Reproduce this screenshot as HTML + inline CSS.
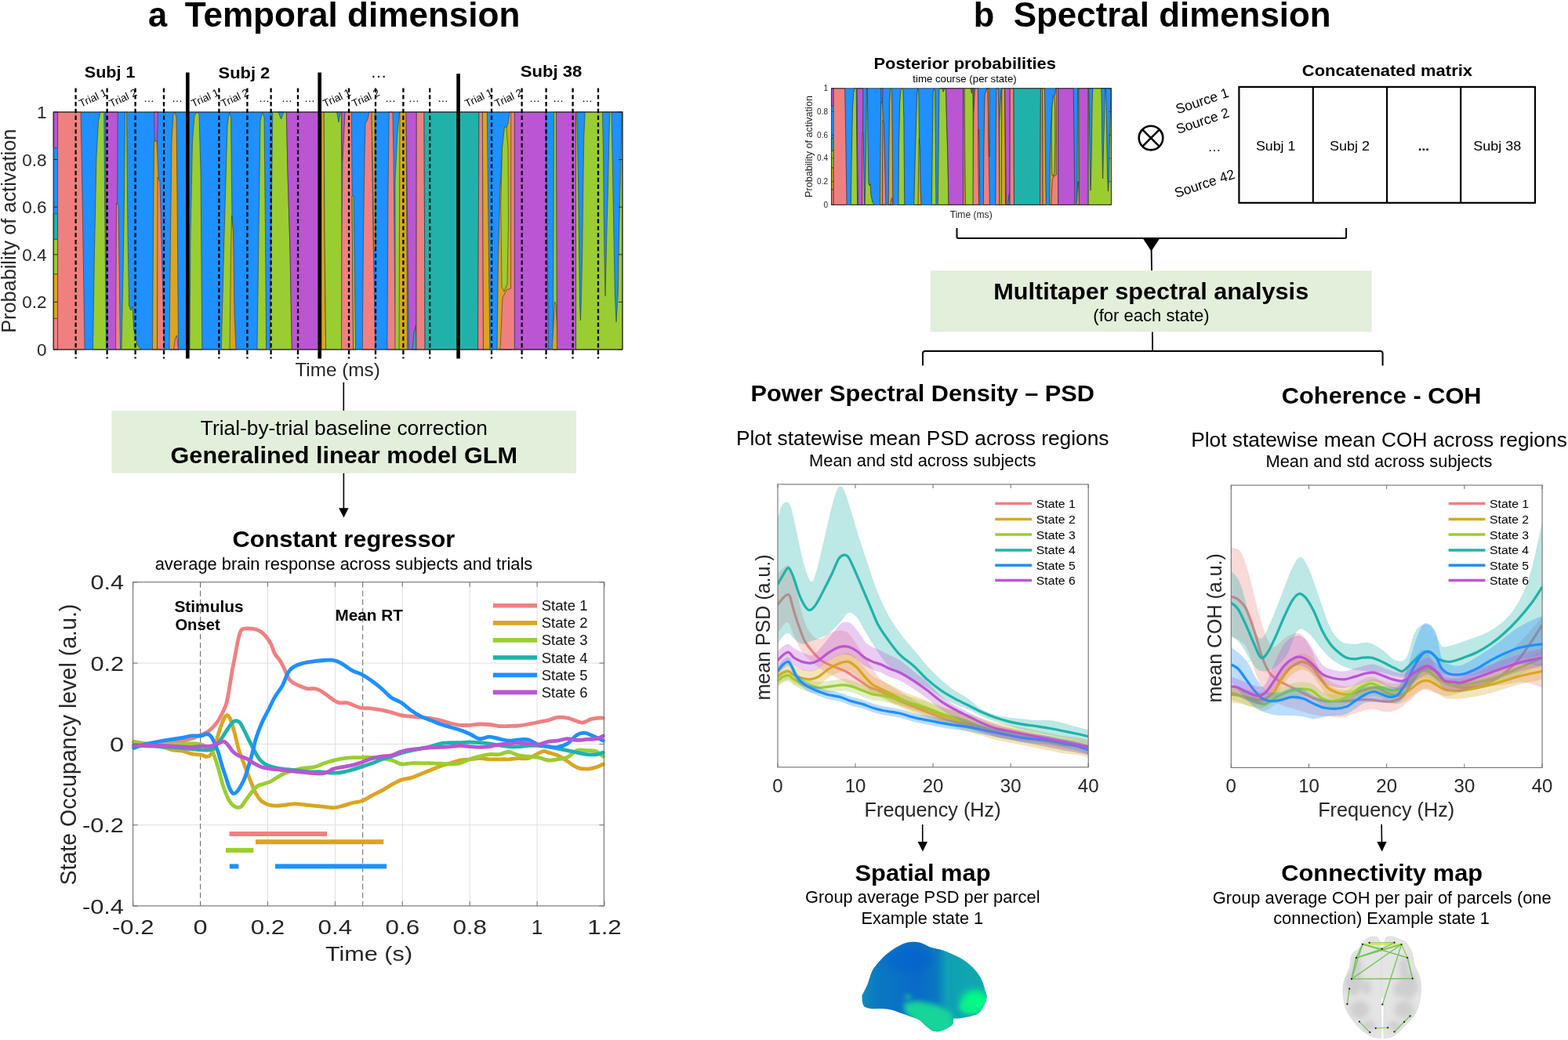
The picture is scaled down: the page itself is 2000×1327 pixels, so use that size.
<!DOCTYPE html>
<html><head><meta charset="utf-8"><title>Temporal and spectral dimension</title>
<style>html,body{margin:0;padding:0;background:#fff;} svg{display:block;} text{font-family:'Liberation Sans', Arial, Helvetica, sans-serif;}</style>
</head><body>
<svg width="2000" height="1327" viewBox="0 0 2000 1327">
<rect width="2000" height="1327" fill="#fff"/>
<text x="201.0" y="34.0" font-size="43.5" font-weight="bold" text-anchor="middle">a</text>
<text x="449.6" y="34.0" font-size="43.5" font-weight="bold" text-anchor="middle" textLength="427.6" lengthAdjust="spacingAndGlyphs">Temporal dimension</text>
<text x="1255.0" y="34.0" font-size="43.5" font-weight="bold" text-anchor="middle">b</text>
<text x="1495.2" y="34.0" font-size="43.5" font-weight="bold" text-anchor="middle" textLength="404.9" lengthAdjust="spacingAndGlyphs">Spectral dimension</text>
<g>
<rect x="68.2" y="143.0" width="725.8" height="303.0" fill="#1E90FF"/>
<polygon points="68.2,143.0 73.6,143.0 73.6,188.6 68.2,188.6" fill="#BA55D3" stroke="#333" stroke-width="0.6" stroke-linejoin="round"/>
<polygon points="68.2,272.7 73.6,272.7 73.6,305.4 68.2,305.4" fill="#20B2AA" stroke="#333" stroke-width="0.6" stroke-linejoin="round"/>
<polygon points="68.2,305.4 73.6,305.4 73.6,349.8 68.2,349.8" fill="#9ACD32" stroke="#333" stroke-width="0.6" stroke-linejoin="round"/>
<polygon points="68.2,349.8 73.6,349.8 73.6,406.4 68.2,406.4" fill="#DAA520" stroke="#333" stroke-width="0.6" stroke-linejoin="round"/>
<polygon points="68.2,406.4 73.6,406.4 73.6,446.0 68.2,446.0" fill="#F08080" stroke="#333" stroke-width="0.6" stroke-linejoin="round"/>
<polygon points="73.6,143.0 103.0,143.0 105.0,250.0 107.0,380.0 108.0,446.0 73.6,446.0" fill="#F08080" stroke="#333" stroke-width="0.6" stroke-linejoin="round"/>
<polygon points="118.5,446.0 120.5,320.0 123.0,200.0 125.5,155.0 128.0,143.0 132.7,143.0 133.5,250.0 135.5,446.0" fill="#9ACD32" stroke="#333" stroke-width="0.6" stroke-linejoin="round"/>
<polygon points="134.6,143.0 150.2,143.0 149.5,300.0 148.5,446.0 137.4,446.0 135.5,300.0" fill="#BA55D3" stroke="#333" stroke-width="0.6" stroke-linejoin="round"/>
<polygon points="148.5,259.0 151.0,262.0 153.5,446.0 147.5,446.0" fill="#F08080" stroke="#333" stroke-width="0.6" stroke-linejoin="round"/>
<polygon points="159.5,143.0 161.5,143.0 163.0,300.0 164.5,390.0 167.0,396.0 169.0,391.0 170.5,420.0 175.0,440.0 180.0,446.0 155.0,446.0 157.0,350.0 158.5,250.0" fill="#9ACD32" stroke="#333" stroke-width="0.6" stroke-linejoin="round"/>
<polygon points="196.5,143.0 201.5,143.0 200.0,190.0 197.5,190.0" fill="#BA55D3" stroke="#333" stroke-width="0.6" stroke-linejoin="round"/>
<polygon points="196.5,180.0 200.0,180.0 202.0,226.0 200.5,446.0 194.5,446.0 195.5,300.0" fill="#DAA520" stroke="#333" stroke-width="0.6" stroke-linejoin="round"/>
<polygon points="201.0,226.0 204.0,232.0 209.5,446.0 200.5,446.0" fill="#F08080" stroke="#333" stroke-width="0.6" stroke-linejoin="round"/>
<polygon points="216.0,446.0 217.5,300.0 219.0,180.0 221.0,146.0 223.0,143.0 225.0,150.0 226.0,250.0 227.5,446.0" fill="#DAA520" stroke="#333" stroke-width="0.6" stroke-linejoin="round"/>
<polygon points="221.5,446.0 223.5,432.0 225.5,428.0 227.5,446.0" fill="#F08080" stroke="#333" stroke-width="0.6" stroke-linejoin="round"/>
<polygon points="242.0,446.0 243.0,300.0 245.5,180.0 248.0,148.0 251.0,143.0 254.0,146.0 256.0,220.0 257.8,446.0" fill="#9ACD32" stroke="#333" stroke-width="0.6" stroke-linejoin="round"/>
<polygon points="282.3,446.0 286.0,300.0 290.0,160.0 292.5,143.0 294.5,150.0 296.0,280.0 296.0,446.0" fill="#9ACD32" stroke="#333" stroke-width="0.6" stroke-linejoin="round"/>
<polygon points="295.5,275.0 297.5,295.0 299.0,400.0 301.0,446.0 293.0,446.0 294.5,320.0" fill="#DAA520" stroke="#333" stroke-width="0.6" stroke-linejoin="round"/>
<polygon points="328.0,446.0 330.0,300.0 332.0,155.0 334.5,143.0 337.0,150.0 338.5,300.0 339.6,446.0" fill="#9ACD32" stroke="#333" stroke-width="0.6" stroke-linejoin="round"/>
<polygon points="347.8,143.0 365.3,143.0 367.0,220.0 370.0,320.0 372.3,446.0 344.3,446.0 345.5,350.0 346.5,250.0" fill="#9ACD32" stroke="#333" stroke-width="0.6" stroke-linejoin="round"/>
<polygon points="355.0,143.0 362.0,143.0 358.5,152.0" fill="#1E90FF" stroke="#333" stroke-width="0.6" stroke-linejoin="round"/>
<polygon points="365.3,143.0 410.0,143.0 410.0,446.0 372.3,446.0 370.0,320.0 367.0,220.0" fill="#BA55D3" stroke="#333" stroke-width="0.6" stroke-linejoin="round"/>
<polygon points="410.0,143.0 413.2,143.0 414.0,300.0 415.6,446.0 410.0,446.0" fill="#DAA520" stroke="#333" stroke-width="0.6" stroke-linejoin="round"/>
<polygon points="413.2,143.0 435.4,143.0 436.0,300.0 436.0,446.0 415.6,446.0 414.0,300.0" fill="#9ACD32" stroke="#333" stroke-width="0.6" stroke-linejoin="round"/>
<polygon points="429.6,143.0 434.3,143.0 432.0,156.0" fill="#1E90FF" stroke="#333" stroke-width="0.6" stroke-linejoin="round"/>
<polygon points="435.4,143.0 440.0,143.0 438.0,205.0 436.5,205.0" fill="#BA55D3" stroke="#333" stroke-width="0.6" stroke-linejoin="round"/>
<polygon points="440.0,143.0 448.3,143.0 449.5,300.0 450.6,446.0 435.5,446.0 436.0,300.0 437.0,205.0" fill="#F08080" stroke="#333" stroke-width="0.6" stroke-linejoin="round"/>
<polygon points="449.0,250.0 451.0,250.0 453.5,446.0 450.6,446.0" fill="#9ACD32" stroke="#333" stroke-width="0.6" stroke-linejoin="round"/>
<polygon points="466.0,158.0 469.0,152.0 471.0,143.0 474.0,143.0 476.0,300.0 478.7,446.0 462.3,446.0 463.5,300.0 465.0,200.0" fill="#F08080" stroke="#333" stroke-width="0.6" stroke-linejoin="round"/>
<polygon points="474.0,143.0 478.0,143.0 478.7,320.0 476.8,320.0 475.5,220.0" fill="#DAA520" stroke="#333" stroke-width="0.6" stroke-linejoin="round"/>
<polygon points="493.9,446.0 495.0,250.0 496.2,143.0 500.9,143.0 502.0,200.0 504.4,446.0" fill="#F08080" stroke="#333" stroke-width="0.6" stroke-linejoin="round"/>
<polygon points="504.0,230.0 507.0,170.0 509.5,143.0 510.5,143.0 510.0,446.0 504.0,446.0" fill="#9ACD32" stroke="#333" stroke-width="0.6" stroke-linejoin="round"/>
<polygon points="510.0,143.0 518.0,143.0 519.6,446.0 509.0,446.0" fill="#DAA520" stroke="#333" stroke-width="0.6" stroke-linejoin="round"/>
<polygon points="518.0,143.0 531.3,143.0 531.0,446.0 521.5,446.0" fill="#BA55D3" stroke="#333" stroke-width="0.6" stroke-linejoin="round"/>
<polygon points="526.0,446.0 528.0,425.0 530.5,415.0 531.0,446.0" fill="#20B2AA" stroke="#333" stroke-width="0.6" stroke-linejoin="round"/>
<polygon points="531.3,143.0 541.0,143.0 542.0,446.0 531.0,446.0" fill="#F08080" stroke="#333" stroke-width="0.6" stroke-linejoin="round"/>
<polygon points="541.0,143.0 611.0,143.0 609.6,446.0 542.0,446.0" fill="#20B2AA" stroke="#333" stroke-width="0.6" stroke-linejoin="round"/>
<polygon points="611.0,143.0 615.4,143.0 616.5,446.0 609.6,446.0" fill="#F08080" stroke="#333" stroke-width="0.6" stroke-linejoin="round"/>
<polygon points="615.4,143.0 621.3,143.0 624.8,446.0 616.5,446.0" fill="#DAA520" stroke="#333" stroke-width="0.6" stroke-linejoin="round"/>
<polygon points="634.0,446.0 635.5,330.0 638.0,240.0 641.0,190.0 645.0,165.0 648.0,158.0 650.0,143.0 653.0,143.0 653.0,446.0" fill="#DAA520" stroke="#333" stroke-width="0.6" stroke-linejoin="round"/>
<polygon points="640.0,366.0 638.8,260.0 640.5,190.0 643.5,162.0 646.0,162.0 648.0,190.0 648.5,280.0 647.0,362.0 643.0,372.0" fill="#9ACD32" stroke="#333" stroke-width="0.6" stroke-linejoin="round"/>
<polygon points="638.0,446.0 641.0,380.0 646.0,370.0 651.5,368.0 651.7,143.0 656.4,143.0 656.4,446.0" fill="#F08080" stroke="#333" stroke-width="0.6" stroke-linejoin="round"/>
<polygon points="656.4,143.0 696.0,143.0 699.6,446.0 656.4,446.0" fill="#BA55D3" stroke="#333" stroke-width="0.6" stroke-linejoin="round"/>
<polygon points="706.6,143.0 709.5,143.0 710.5,446.0 705.5,446.0" fill="#9ACD32" stroke="#333" stroke-width="0.6" stroke-linejoin="round"/>
<polygon points="707.5,385.0 709.0,388.0 712.0,446.0 704.3,446.0" fill="#DAA520" stroke="#333" stroke-width="0.6" stroke-linejoin="round"/>
<polygon points="709.5,143.0 734.6,143.0 734.6,446.0 710.5,446.0" fill="#BA55D3" stroke="#333" stroke-width="0.6" stroke-linejoin="round"/>
<polygon points="734.6,143.0 794.0,143.0 794.0,446.0 734.6,446.0" fill="#9ACD32" stroke="#333" stroke-width="0.6" stroke-linejoin="round"/>
<polygon points="735.7,143.0 746.2,143.0 744.8,175.0 743.6,250.0 742.6,330.0 741.2,390.0 740.4,409.0 739.6,390.0 738.6,320.0 737.5,230.0 736.4,170.0" fill="#1E90FF" stroke="#333" stroke-width="0.6" stroke-linejoin="round"/>
<polygon points="768.4,143.0 777.8,143.0 776.6,187.0 775.5,240.0 774.3,280.0 773.2,330.0 772.0,378.0 771.0,330.0 770.3,280.0 769.6,200.0 768.9,165.0" fill="#1E90FF" stroke="#333" stroke-width="0.6" stroke-linejoin="round"/>
<polygon points="780.0,143.0 793.0,143.0 792.5,170.0 791.8,210.0 789.4,303.0 788.3,374.0 786.0,411.0 784.3,374.0 783.0,303.0 781.3,210.0 780.5,170.0" fill="#1E90FF" stroke="#333" stroke-width="0.6" stroke-linejoin="round"/>
</g>
<rect x="68.2" y="143.0" width="725.8" height="303.0" fill="none" stroke="#262626" stroke-width="1.2"/>
<line x1="68.2" y1="446.0" x2="73.2" y2="446.0" stroke="#262626" stroke-width="1"/>
<line x1="794.0" y1="446.0" x2="789.0" y2="446.0" stroke="#262626" stroke-width="1"/>
<text x="59.5" y="454.0" font-size="22.5" text-anchor="end" fill="#262626">0</text>
<line x1="68.2" y1="385.4" x2="73.2" y2="385.4" stroke="#262626" stroke-width="1"/>
<line x1="794.0" y1="385.4" x2="789.0" y2="385.4" stroke="#262626" stroke-width="1"/>
<text x="59.5" y="393.4" font-size="22.5" text-anchor="end" fill="#262626">0.2</text>
<line x1="68.2" y1="324.8" x2="73.2" y2="324.8" stroke="#262626" stroke-width="1"/>
<line x1="794.0" y1="324.8" x2="789.0" y2="324.8" stroke="#262626" stroke-width="1"/>
<text x="59.5" y="332.8" font-size="22.5" text-anchor="end" fill="#262626">0.4</text>
<line x1="68.2" y1="264.2" x2="73.2" y2="264.2" stroke="#262626" stroke-width="1"/>
<line x1="794.0" y1="264.2" x2="789.0" y2="264.2" stroke="#262626" stroke-width="1"/>
<text x="59.5" y="272.2" font-size="22.5" text-anchor="end" fill="#262626">0.6</text>
<line x1="68.2" y1="203.6" x2="73.2" y2="203.6" stroke="#262626" stroke-width="1"/>
<line x1="794.0" y1="203.6" x2="789.0" y2="203.6" stroke="#262626" stroke-width="1"/>
<text x="59.5" y="211.6" font-size="22.5" text-anchor="end" fill="#262626">0.8</text>
<line x1="68.2" y1="143.0" x2="73.2" y2="143.0" stroke="#262626" stroke-width="1"/>
<line x1="794.0" y1="143.0" x2="789.0" y2="143.0" stroke="#262626" stroke-width="1"/>
<text x="59.5" y="151.0" font-size="22.5" text-anchor="end" fill="#262626">1</text>
<text x="20.0" y="294.8" font-size="25.3" text-anchor="middle" fill="#262626" transform="rotate(-90 20.0 294.8)">Probability of activation</text>
<text x="430.6" y="480.0" font-size="24" text-anchor="middle" fill="#262626" textLength="108.4" lengthAdjust="spacingAndGlyphs">Time (ms)</text>
<line x1="96.6" y1="112.4" x2="96.6" y2="457.5" stroke="#000" stroke-width="2.3" stroke-dasharray="5.4,3.4"/>
<line x1="136.6" y1="112.4" x2="136.6" y2="457.5" stroke="#000" stroke-width="2.3" stroke-dasharray="5.4,3.4"/>
<line x1="172.6" y1="112.4" x2="172.6" y2="457.5" stroke="#000" stroke-width="2.3" stroke-dasharray="5.4,3.4"/>
<line x1="209" y1="112.4" x2="209" y2="457.5" stroke="#000" stroke-width="2.3" stroke-dasharray="5.4,3.4"/>
<line x1="279.4" y1="112.4" x2="279.4" y2="457.5" stroke="#000" stroke-width="2.3" stroke-dasharray="5.4,3.4"/>
<line x1="315.4" y1="112.4" x2="315.4" y2="457.5" stroke="#000" stroke-width="2.3" stroke-dasharray="5.4,3.4"/>
<line x1="345.6" y1="112.4" x2="345.6" y2="457.5" stroke="#000" stroke-width="2.3" stroke-dasharray="5.4,3.4"/>
<line x1="380" y1="112.4" x2="380" y2="457.5" stroke="#000" stroke-width="2.3" stroke-dasharray="5.4,3.4"/>
<line x1="445" y1="112.4" x2="445" y2="457.5" stroke="#000" stroke-width="2.3" stroke-dasharray="5.4,3.4"/>
<line x1="479" y1="112.4" x2="479" y2="457.5" stroke="#000" stroke-width="2.3" stroke-dasharray="5.4,3.4"/>
<line x1="514.4" y1="112.4" x2="514.4" y2="457.5" stroke="#000" stroke-width="2.3" stroke-dasharray="5.4,3.4"/>
<line x1="548.2" y1="112.4" x2="548.2" y2="457.5" stroke="#000" stroke-width="2.3" stroke-dasharray="5.4,3.4"/>
<line x1="627" y1="112.4" x2="627" y2="457.5" stroke="#000" stroke-width="2.3" stroke-dasharray="5.4,3.4"/>
<line x1="665.6" y1="112.4" x2="665.6" y2="457.5" stroke="#000" stroke-width="2.3" stroke-dasharray="5.4,3.4"/>
<line x1="696.6" y1="112.4" x2="696.6" y2="457.5" stroke="#000" stroke-width="2.3" stroke-dasharray="5.4,3.4"/>
<line x1="730.6" y1="112.4" x2="730.6" y2="457.5" stroke="#000" stroke-width="2.3" stroke-dasharray="5.4,3.4"/>
<line x1="763" y1="112.4" x2="763" y2="457.5" stroke="#000" stroke-width="2.3" stroke-dasharray="5.4,3.4"/>
<line x1="239.3" y1="92.4" x2="239.3" y2="457.5" stroke="#000" stroke-width="4.6"/>
<line x1="407.7" y1="92.4" x2="407.7" y2="457.5" stroke="#000" stroke-width="4.6"/>
<line x1="584.6" y1="94" x2="584.6" y2="457.5" stroke="#000" stroke-width="4.6"/>
<text x="140.1" y="99.1" font-size="21" font-weight="bold" text-anchor="middle" textLength="64.6" lengthAdjust="spacingAndGlyphs">Subj 1</text>
<text x="311.4" y="100.0" font-size="21" font-weight="bold" text-anchor="middle" textLength="65.8" lengthAdjust="spacingAndGlyphs">Subj 2</text>
<text x="703.0" y="98.3" font-size="21" font-weight="bold" text-anchor="middle" textLength="78.6" lengthAdjust="spacingAndGlyphs">Subj 38</text>
<text x="483.0" y="98.5" font-size="21" text-anchor="middle">…</text>
<text x="103.5" y="137.0" font-size="13.6" transform="rotate(-25 103.5 137.0)">Trial 1</text>
<text x="142.0" y="137.0" font-size="13.6" transform="rotate(-25 142.0 137.0)">Trial 2</text>
<text x="246.5" y="137.0" font-size="13.6" transform="rotate(-25 246.5 137.0)">Trial 1</text>
<text x="284.5" y="137.0" font-size="13.6" transform="rotate(-25 284.5 137.0)">Trial 2</text>
<text x="414.5" y="137.0" font-size="13.6" transform="rotate(-25 414.5 137.0)">Trial 1</text>
<text x="451.5" y="137.0" font-size="13.6" transform="rotate(-25 451.5 137.0)">Trial 2</text>
<text x="595.5" y="137.0" font-size="13.6" transform="rotate(-25 595.5 137.0)">Trial 1</text>
<text x="633.5" y="137.0" font-size="13.6" transform="rotate(-25 633.5 137.0)">Trial 2</text>
<text x="190.0" y="129.5" font-size="14" text-anchor="middle">…</text>
<text x="226.0" y="129.5" font-size="14" text-anchor="middle">…</text>
<text x="337.0" y="129.5" font-size="14" text-anchor="middle">…</text>
<text x="366.0" y="129.5" font-size="14" text-anchor="middle">…</text>
<text x="395.0" y="129.5" font-size="14" text-anchor="middle">…</text>
<text x="498.0" y="129.5" font-size="14" text-anchor="middle">…</text>
<text x="528.0" y="129.5" font-size="14" text-anchor="middle">…</text>
<text x="565.0" y="129.5" font-size="14" text-anchor="middle">…</text>
<text x="682.0" y="129.5" font-size="14" text-anchor="middle">…</text>
<text x="712.0" y="129.5" font-size="14" text-anchor="middle">…</text>
<text x="749.0" y="129.5" font-size="14" text-anchor="middle">…</text>
<line x1="438.3" y1="488" x2="438.3" y2="524" stroke="#000" stroke-width="1.6"/>
<rect x="142.4" y="523.9" width="592.7" height="79.9" fill="#E2EFDA"/>
<text x="438.9" y="555.2" font-size="25.5" text-anchor="middle" textLength="366.2" lengthAdjust="spacingAndGlyphs">Trial-by-trial baseline correction</text>
<text x="438.8" y="590.5" font-size="30" font-weight="bold" text-anchor="middle" textLength="442.5" lengthAdjust="spacingAndGlyphs">Generalined linear model GLM</text>
<line x1="438.4" y1="603.8" x2="438.4" y2="650" stroke="#000" stroke-width="1.6"/>
<polygon points="432.2,648.2 444.6,648.2 438.4,660.6" fill="#000"/>
<text x="438.4" y="698.0" font-size="29.5" font-weight="bold" text-anchor="middle" textLength="283.9" lengthAdjust="spacingAndGlyphs">Constant regressor</text>
<text x="438.5" y="726.5" font-size="21.5" text-anchor="middle" textLength="481.6" lengthAdjust="spacingAndGlyphs">average brain response across subjects and trials</text>
<rect x="169.6" y="742.8" width="600.8" height="413.1" fill="#fff"/>
<line x1="341.5" y1="742.8" x2="341.5" y2="1155.9" stroke="#dfdfdf" stroke-width="1"/>
<line x1="427.4" y1="742.8" x2="427.4" y2="1155.9" stroke="#dfdfdf" stroke-width="1"/>
<line x1="513.3" y1="742.8" x2="513.3" y2="1155.9" stroke="#dfdfdf" stroke-width="1"/>
<line x1="599.2" y1="742.8" x2="599.2" y2="1155.9" stroke="#dfdfdf" stroke-width="1"/>
<line x1="685.1" y1="742.8" x2="685.1" y2="1155.9" stroke="#dfdfdf" stroke-width="1"/>
<line x1="169.6" y1="846.1" x2="770.4" y2="846.1" stroke="#dfdfdf" stroke-width="1"/>
<line x1="169.6" y1="949.4" x2="770.4" y2="949.4" stroke="#dfdfdf" stroke-width="1"/>
<line x1="169.6" y1="1052.7" x2="770.4" y2="1052.7" stroke="#dfdfdf" stroke-width="1"/>
<line x1="255.6" y1="742.8" x2="255.6" y2="1155.9" stroke="#666" stroke-width="1" stroke-dasharray="7,4"/>
<line x1="462.7" y1="742.8" x2="462.7" y2="1155.9" stroke="#666" stroke-width="1" stroke-dasharray="7,4"/>
<g fill="none" stroke-width="4.8" stroke-linejoin="round" stroke-linecap="round">
<path d="M170.6,951.0 C174.9,950.8 187.9,950.4 196.2,949.8 C204.5,949.2 213.1,948.4 220.3,947.4 C227.5,946.4 233.5,945.4 239.6,943.8 C245.6,942.2 252.0,939.5 256.5,937.7 C260.9,935.9 262.9,935.3 266.1,932.9 C269.3,930.5 272.9,926.9 275.7,923.3 C278.6,919.6 280.8,915.6 283.0,911.2 C285.2,906.8 287.4,902.4 289.0,896.7 C290.6,891.1 291.4,884.3 292.6,877.4 C293.8,870.6 295.0,862.6 296.2,855.7 C297.4,848.9 298.7,842.9 299.9,836.5 C301.1,830.0 302.3,822.4 303.5,817.2 C304.7,811.9 305.7,807.6 307.1,805.1 C308.5,802.6 309.1,802.6 311.9,802.2 C314.7,801.8 320.8,802.2 324.0,802.7 C327.2,803.2 328.8,803.7 331.2,805.1 C333.6,806.5 336.0,808.3 338.4,811.1 C340.9,813.9 343.7,818.2 345.7,822.0 C347.7,825.8 348.5,830.4 350.5,834.0 C352.5,837.7 355.7,840.5 357.7,843.7 C359.7,846.9 360.9,849.9 362.6,853.3 C364.2,856.8 365.8,861.4 367.4,864.2 C369.0,867.0 369.8,868.4 372.2,870.2 C374.6,872.0 378.6,873.6 381.8,875.0 C385.1,876.4 388.3,878.1 391.5,878.7 C394.7,879.3 398.3,878.3 401.1,878.7 C404.0,879.1 406.0,879.9 408.4,881.1 C410.8,882.3 412.8,883.9 415.6,885.9 C418.4,887.9 422.4,891.3 425.3,893.1 C428.1,894.9 429.7,896.1 432.5,896.7 C435.3,897.3 439.3,896.3 442.1,896.7 C444.9,897.1 446.6,898.1 449.4,899.2 C452.2,900.2 454.8,901.9 459.0,902.8 C463.3,903.6 470.2,903.6 474.9,904.1 C479.6,904.7 483.2,905.3 487.3,906.1 C491.4,907.0 495.6,908.0 499.7,909.1 C503.9,910.2 508.0,912.0 512.2,912.8 C516.3,913.7 520.5,913.7 524.6,914.1 C528.8,914.5 532.9,914.9 537.0,915.3 C541.2,915.7 545.3,916.0 549.5,916.6 C553.6,917.2 557.8,918.0 561.9,919.1 C566.1,920.1 570.2,921.8 574.3,922.8 C578.5,923.8 582.6,924.9 586.8,925.3 C590.9,925.7 595.1,925.5 599.2,925.3 C603.4,925.1 607.5,924.2 611.7,924.0 C615.8,923.9 619.9,924.1 624.1,924.5 C628.2,924.9 632.4,926.2 636.5,926.5 C640.7,926.9 644.8,926.6 649.0,926.5 C653.1,926.4 657.2,926.4 661.4,926.0 C665.5,925.6 669.7,924.8 673.8,924.0 C678.0,923.3 682.1,922.4 686.3,921.5 C690.4,920.7 694.5,920.1 698.7,919.1 C702.8,918.0 707.0,915.8 711.1,915.3 C715.3,914.8 719.4,915.2 723.6,916.1 C727.7,916.9 732.7,919.3 736.0,920.3 C739.3,921.3 740.6,922.5 743.5,922.0 C746.4,921.6 750.1,918.8 753.4,917.8 C756.7,916.8 760.7,916.4 763.4,916.1 C766.0,915.8 768.4,916.1 769.4,916.1" stroke="#F08080"/>
<path d="M170.6,946.2 C172.9,946.6 177.8,947.4 184.1,948.6 C190.4,949.8 202.2,952.0 208.2,953.4 C214.3,954.8 216.3,956.2 220.3,957.0 C224.3,957.8 228.3,957.4 232.3,958.2 C236.4,959.0 240.4,961.0 244.4,961.8 C248.4,962.7 253.2,962.4 256.5,963.1 C259.7,963.7 261.7,965.5 263.7,965.5 C265.7,965.5 266.9,964.9 268.5,963.1 C270.1,961.2 271.7,958.8 273.3,954.6 C274.9,950.4 276.6,943.0 278.2,937.7 C279.8,932.5 281.4,927.3 283.0,923.3 C284.6,919.2 286.4,915.2 287.8,913.6 C289.2,912.0 290.2,912.4 291.4,913.6 C292.6,914.8 293.6,916.8 295.0,920.9 C296.4,924.9 298.3,931.7 299.9,937.7 C301.5,943.8 302.7,950.6 304.7,957.0 C306.7,963.5 309.5,969.9 311.9,976.3 C314.3,982.7 316.7,989.6 319.2,995.6 C321.6,1001.6 324.0,1008.1 326.4,1012.5 C328.8,1016.9 330.8,1019.7 333.6,1022.1 C336.4,1024.5 340.0,1025.9 343.3,1027.0 C346.5,1028.0 349.3,1028.2 352.9,1028.2 C356.5,1028.2 360.9,1027.4 365.0,1027.0 C369.0,1026.6 373.0,1025.7 377.0,1025.7 C381.0,1025.7 385.1,1026.6 389.1,1027.0 C393.1,1027.4 397.1,1027.8 401.1,1028.2 C405.2,1028.6 409.2,1029.0 413.2,1029.4 C417.2,1029.8 421.2,1030.8 425.3,1030.6 C429.3,1030.4 433.3,1029.2 437.3,1028.2 C441.3,1027.2 445.3,1025.5 449.4,1024.5 C453.4,1023.5 457.2,1023.8 461.4,1022.1 C465.7,1020.5 470.6,1017.1 474.9,1014.8 C479.2,1012.6 483.2,1010.9 487.3,1008.6 C491.4,1006.3 495.6,1003.4 499.7,1001.1 C503.9,998.8 508.0,996.4 512.2,994.9 C516.3,993.5 520.5,993.7 524.6,992.4 C528.8,991.2 532.9,989.1 537.0,987.5 C541.2,985.8 545.3,984.1 549.5,982.5 C553.6,980.8 557.8,979.0 561.9,977.5 C566.1,976.1 570.2,975.0 574.3,973.8 C578.5,972.5 582.6,970.9 586.8,970.0 C590.9,969.2 595.1,969.2 599.2,968.8 C603.4,968.4 607.5,967.6 611.7,967.6 C615.8,967.6 619.9,968.6 624.1,968.8 C628.2,969.0 632.4,968.8 636.5,968.8 C640.7,968.8 644.8,969.0 649.0,968.8 C653.1,968.6 657.2,967.8 661.4,967.6 C665.5,967.3 669.7,968.6 673.8,967.6 C678.0,966.5 682.9,962.9 686.3,961.3 C689.6,959.8 691.6,958.6 693.7,958.4 C695.8,958.1 695.8,959.2 698.7,960.1 C701.6,961.0 707.0,962.0 711.1,963.8 C715.3,965.7 719.4,968.7 723.6,971.3 C727.7,973.9 731.9,977.6 736.0,979.2 C740.1,980.9 744.3,981.3 748.4,981.2 C752.6,981.2 757.4,979.8 760.9,978.7 C764.4,977.7 768.0,975.6 769.4,975.0" stroke="#DAA520"/>
<path d="M170.6,947.4 C174.9,947.8 187.9,949.4 196.2,949.8 C204.5,950.2 212.2,950.0 220.3,949.8 C228.3,949.6 238.4,948.6 244.4,948.6 C250.4,948.6 253.2,949.0 256.5,949.8 C259.7,950.6 261.3,951.8 263.7,953.4 C266.1,955.0 268.9,956.4 270.9,959.4 C272.9,962.4 274.1,966.7 275.7,971.5 C277.4,976.3 279.0,982.7 280.6,988.4 C282.2,994.0 283.4,999.6 285.4,1005.3 C287.4,1010.9 290.2,1018.1 292.6,1022.1 C295.0,1026.2 297.4,1028.2 299.9,1029.4 C302.3,1030.6 304.7,1031.0 307.1,1029.4 C309.5,1027.8 311.9,1022.9 314.3,1019.7 C316.7,1016.5 319.2,1012.9 321.6,1010.1 C324.0,1007.3 326.4,1004.4 328.8,1002.8 C331.2,1001.2 333.2,1001.4 336.0,1000.4 C338.8,999.4 342.5,998.4 345.7,996.8 C348.9,995.2 352.1,992.6 355.3,990.8 C358.5,989.0 361.4,987.4 365.0,986.0 C368.6,984.6 373.0,983.3 377.0,982.3 C381.0,981.3 385.1,980.5 389.1,979.9 C393.1,979.3 397.1,979.7 401.1,978.7 C405.2,977.7 409.2,975.3 413.2,973.9 C417.2,972.5 421.2,971.3 425.3,970.3 C429.3,969.3 433.3,968.5 437.3,967.9 C441.3,967.3 445.3,966.9 449.4,966.7 C453.4,966.5 457.2,966.7 461.4,966.7 C465.7,966.6 470.6,966.2 474.9,966.3 C479.2,966.5 483.2,966.9 487.3,967.6 C491.4,968.2 495.6,968.8 499.7,970.0 C503.9,971.3 508.0,974.4 512.2,975.0 C516.3,975.6 520.5,974.0 524.6,973.8 C528.8,973.6 532.9,973.8 537.0,973.8 C541.2,973.8 545.3,973.7 549.5,973.8 C553.6,973.9 557.8,974.1 561.9,974.3 C566.1,974.5 570.2,975.1 574.3,975.0 C578.5,974.9 582.6,974.8 586.8,973.8 C590.9,972.7 595.1,970.2 599.2,968.8 C603.4,967.3 607.5,966.1 611.7,965.1 C615.8,964.0 619.9,963.0 624.1,962.6 C628.2,962.2 632.4,963.1 636.5,962.6 C640.7,962.0 644.8,959.1 649.0,959.3 C653.1,959.6 657.2,962.9 661.4,963.8 C665.5,964.8 669.7,964.7 673.8,965.1 C678.0,965.5 682.1,965.5 686.3,966.3 C690.4,967.1 694.5,969.6 698.7,970.0 C702.8,970.5 707.0,969.4 711.1,968.8 C715.3,968.2 719.4,968.2 723.6,966.3 C727.7,964.4 731.9,959.1 736.0,957.6 C740.1,956.2 744.3,957.4 748.4,957.6 C752.6,957.8 757.4,957.6 760.9,958.9 C764.4,960.1 768.0,964.0 769.4,965.1" stroke="#9ACD32"/>
<path d="M170.6,951.0 C174.9,951.2 187.9,951.8 196.2,952.2 C204.5,952.6 212.2,952.8 220.3,953.4 C228.3,954.0 237.6,955.2 244.4,955.8 C251.2,956.4 256.9,957.0 261.3,957.0 C265.7,957.0 267.7,957.8 270.9,955.8 C274.1,953.8 277.4,949.2 280.6,945.0 C283.8,940.7 287.4,934.5 290.2,930.5 C293.0,926.5 295.0,922.5 297.4,920.9 C299.9,919.2 302.7,919.6 304.7,920.9 C306.7,922.1 307.5,924.5 309.5,928.1 C311.5,931.7 314.3,937.7 316.7,942.6 C319.2,947.4 321.6,952.6 324.0,957.0 C326.4,961.4 328.8,966.1 331.2,969.1 C333.6,972.1 335.6,973.5 338.4,975.1 C341.3,976.7 344.5,977.7 348.1,978.7 C351.7,979.7 356.1,980.5 360.1,981.1 C364.2,981.7 368.2,981.9 372.2,982.3 C376.2,982.7 380.2,983.1 384.3,983.5 C388.3,984.0 392.3,984.6 396.3,984.8 C400.3,985.0 404.4,984.6 408.4,984.8 C412.4,985.0 416.4,985.8 420.4,986.0 C424.4,986.2 428.5,986.4 432.5,986.0 C436.5,985.6 440.5,984.6 444.5,983.5 C448.6,982.5 451.5,981.6 456.6,979.9 C461.7,978.3 469.8,975.6 474.9,973.8 C480.0,971.9 483.2,970.2 487.3,968.8 C491.4,967.3 495.6,966.4 499.7,965.1 C503.9,963.7 508.0,962.1 512.2,960.8 C516.3,959.6 520.5,958.6 524.6,957.6 C528.8,956.7 532.9,955.9 537.0,955.1 C541.2,954.3 545.3,953.7 549.5,952.6 C553.6,951.6 557.8,949.7 561.9,948.9 C566.1,948.1 570.2,947.9 574.3,947.7 C578.5,947.5 582.6,947.8 586.8,947.7 C590.9,947.5 595.1,946.9 599.2,946.9 C603.4,946.9 607.5,947.3 611.7,947.7 C615.8,948.0 619.9,948.4 624.1,948.9 C628.2,949.4 632.4,950.3 636.5,950.9 C640.7,951.5 644.8,952.3 649.0,952.6 C653.1,952.9 657.2,952.8 661.4,952.6 C665.5,952.4 669.7,951.6 673.8,951.4 C678.0,951.2 682.1,951.2 686.3,951.4 C690.4,951.6 694.5,952.0 698.7,952.6 C702.8,953.3 707.0,954.3 711.1,955.1 C715.3,955.9 719.4,956.8 723.6,957.6 C727.7,958.4 731.9,959.3 736.0,960.1 C740.1,960.9 744.3,962.2 748.4,962.6 C752.6,963.0 757.4,963.0 760.9,962.6 C764.4,962.2 768.0,960.5 769.4,960.1" stroke="#20B2AA"/>
<path d="M170.6,954.6 C172.9,953.8 177.8,951.4 184.1,949.8 C190.4,948.2 200.2,946.4 208.2,945.0 C216.3,943.6 226.3,942.4 232.3,941.4 C238.4,940.3 240.4,939.3 244.4,938.9 C248.4,938.5 253.2,939.3 256.5,938.9 C259.7,938.5 261.7,936.5 263.7,936.5 C265.7,936.5 266.9,937.1 268.5,938.9 C270.1,940.7 271.7,944.0 273.3,947.4 C274.9,950.8 276.6,954.6 278.2,959.4 C279.8,964.3 281.4,971.1 283.0,976.3 C284.6,981.5 286.2,986.0 287.8,990.8 C289.4,995.6 291.0,1001.6 292.6,1005.3 C294.2,1008.9 295.8,1011.7 297.4,1012.5 C299.1,1013.3 300.7,1011.7 302.3,1010.1 C303.9,1008.5 305.5,1005.7 307.1,1002.8 C308.7,1000.0 310.3,997.2 311.9,993.2 C313.5,989.2 315.1,984.0 316.7,978.7 C318.3,973.5 320.0,967.9 321.6,961.8 C323.2,955.8 324.4,949.0 326.4,942.6 C328.4,936.1 330.8,929.7 333.6,923.3 C336.4,916.8 340.5,909.6 343.3,904.0 C346.1,898.3 347.7,894.3 350.5,889.5 C353.3,884.7 357.3,880.3 360.1,875.0 C363.0,869.8 365.0,862.2 367.4,858.2 C369.8,854.1 371.4,852.9 374.6,850.9 C377.8,848.9 382.2,847.3 386.7,846.1 C391.1,844.9 396.7,844.3 401.1,843.7 C405.6,843.1 409.2,842.7 413.2,842.5 C417.2,842.3 421.6,841.9 425.3,842.5 C428.9,843.1 430.9,843.9 434.9,846.1 C438.9,848.3 444.9,853.3 449.4,855.7 C453.8,858.2 457.2,858.3 461.4,860.6 C465.7,862.8 470.6,866.2 474.9,869.3 C479.2,872.4 483.2,875.7 487.3,879.3 C491.4,882.8 495.6,887.6 499.7,890.5 C503.9,893.4 508.0,894.0 512.2,896.7 C516.3,899.4 520.5,903.7 524.6,906.6 C528.8,909.5 532.9,912.0 537.0,914.1 C541.2,916.2 545.3,917.4 549.5,919.1 C553.6,920.7 557.8,922.6 561.9,924.0 C566.1,925.5 570.2,926.5 574.3,927.8 C578.5,929.0 582.6,930.0 586.8,931.5 C590.9,932.9 595.1,934.6 599.2,936.5 C603.4,938.3 607.5,942.1 611.7,942.7 C615.8,943.3 619.9,940.2 624.1,940.2 C628.2,940.2 632.4,941.9 636.5,942.7 C640.7,943.5 644.8,945.0 649.0,945.2 C653.1,945.4 657.2,944.1 661.4,943.9 C665.5,943.7 669.7,942.9 673.8,943.9 C678.0,945.0 682.1,948.7 686.3,950.1 C690.4,951.6 694.5,952.1 698.7,952.6 C702.8,953.2 707.0,954.0 711.1,953.4 C715.3,952.8 719.4,951.5 723.6,948.9 C727.7,946.3 732.3,940.0 736.0,937.7 C739.7,935.4 742.6,935.0 745.9,935.2 C749.3,935.4 752.0,937.3 755.9,939.0 C759.8,940.6 767.1,944.1 769.4,945.2" stroke="#1E90FF"/>
<path d="M170.6,951.0 C174.9,951.0 187.9,950.8 196.2,951.0 C204.5,951.2 212.2,951.8 220.3,952.2 C228.3,952.6 238.4,953.4 244.4,953.4 C250.4,953.4 252.4,952.4 256.5,952.2 C260.5,952.0 264.9,952.8 268.5,952.2 C272.1,951.6 275.3,949.6 278.2,948.6 C281.0,947.6 283.4,946.0 285.4,946.2 C287.4,946.4 288.2,947.6 290.2,949.8 C292.2,952.0 295.0,957.0 297.4,959.4 C299.9,961.8 301.9,962.9 304.7,964.3 C307.5,965.7 311.1,966.3 314.3,967.9 C317.5,969.5 320.8,972.1 324.0,973.9 C327.2,975.7 330.0,977.5 333.6,978.7 C337.2,979.9 341.7,980.5 345.7,981.1 C349.7,981.7 353.7,981.9 357.7,982.3 C361.8,982.7 365.8,983.1 369.8,983.5 C373.8,984.0 377.8,984.4 381.8,984.8 C385.9,985.2 389.9,985.6 393.9,986.0 C397.9,986.4 402.3,987.2 406.0,987.2 C409.6,987.2 412.4,987.0 415.6,986.0 C418.8,985.0 421.6,982.3 425.3,981.1 C428.9,979.9 433.3,979.5 437.3,978.7 C441.3,977.9 445.3,977.3 449.4,976.3 C453.4,975.3 457.2,974.2 461.4,972.7 C465.7,971.2 470.6,968.8 474.9,967.6 C479.2,966.3 483.2,965.7 487.3,965.1 C491.4,964.4 495.6,964.9 499.7,963.8 C503.9,962.8 508.0,960.1 512.2,958.9 C516.3,957.6 520.5,957.0 524.6,956.4 C528.8,955.7 532.9,955.5 537.0,955.1 C541.2,954.7 545.3,954.2 549.5,953.9 C553.6,953.6 557.8,953.6 561.9,953.4 C566.1,953.2 570.2,953.0 574.3,952.6 C578.5,952.3 582.6,951.4 586.8,951.4 C590.9,951.4 595.1,952.3 599.2,952.6 C603.4,953.0 607.5,953.4 611.7,953.4 C615.8,953.4 619.9,953.2 624.1,952.6 C628.2,952.1 632.4,950.8 636.5,950.1 C640.7,949.5 644.8,949.3 649.0,948.9 C653.1,948.5 657.2,947.7 661.4,947.7 C665.5,947.7 669.7,948.5 673.8,948.9 C678.0,949.3 682.1,950.6 686.3,950.1 C690.4,949.7 694.5,947.2 698.7,946.4 C702.8,945.6 707.0,945.8 711.1,945.2 C715.3,944.6 719.4,942.8 723.6,942.7 C727.7,942.6 731.9,944.3 736.0,944.4 C740.1,944.6 744.3,943.7 748.4,943.4 C752.6,943.1 757.4,943.4 760.9,942.7 C764.4,941.9 768.0,939.6 769.4,939.0" stroke="#BA55D3"/>
</g>
<rect x="292.5" y="1061.0" width="124.6" height="6" fill="#F08080"/>
<rect x="326" y="1071.2" width="163.3" height="6" fill="#DAA520"/>
<rect x="288" y="1081.9" width="35.3" height="6" fill="#9ACD32"/>
<rect x="292.9" y="1102.4" width="11.4" height="6" fill="#1E90FF"/>
<rect x="351" y="1102.4" width="142.1" height="6" fill="#1E90FF"/>
<rect x="169.6" y="742.8" width="600.8" height="413.1" fill="none" stroke="#707070" stroke-width="1.1"/>
<line x1="169.7" y1="1155.9" x2="169.7" y2="1149.9" stroke="#707070"/>
<line x1="169.7" y1="742.8" x2="169.7" y2="748.8" stroke="#707070"/>
<text x="169.7" y="1192.0" font-size="26.5" text-anchor="middle" fill="#262626" textLength="53.4" lengthAdjust="spacingAndGlyphs">-0.2</text>
<line x1="255.6" y1="1155.9" x2="255.6" y2="1149.9" stroke="#707070"/>
<line x1="255.6" y1="742.8" x2="255.6" y2="748.8" stroke="#707070"/>
<text x="255.6" y="1192.0" font-size="26.5" text-anchor="middle" fill="#262626" textLength="18.1" lengthAdjust="spacingAndGlyphs">0</text>
<line x1="341.5" y1="1155.9" x2="341.5" y2="1149.9" stroke="#707070"/>
<line x1="341.5" y1="742.8" x2="341.5" y2="748.8" stroke="#707070"/>
<text x="341.5" y="1192.0" font-size="26.5" text-anchor="middle" fill="#262626" textLength="43.6" lengthAdjust="spacingAndGlyphs">0.2</text>
<line x1="427.4" y1="1155.9" x2="427.4" y2="1149.9" stroke="#707070"/>
<line x1="427.4" y1="742.8" x2="427.4" y2="748.8" stroke="#707070"/>
<text x="427.4" y="1192.0" font-size="26.5" text-anchor="middle" fill="#262626" textLength="43.6" lengthAdjust="spacingAndGlyphs">0.4</text>
<line x1="513.3" y1="1155.9" x2="513.3" y2="1149.9" stroke="#707070"/>
<line x1="513.3" y1="742.8" x2="513.3" y2="748.8" stroke="#707070"/>
<text x="513.3" y="1192.0" font-size="26.5" text-anchor="middle" fill="#262626" textLength="43.6" lengthAdjust="spacingAndGlyphs">0.6</text>
<line x1="599.2" y1="1155.9" x2="599.2" y2="1149.9" stroke="#707070"/>
<line x1="599.2" y1="742.8" x2="599.2" y2="748.8" stroke="#707070"/>
<text x="599.2" y="1192.0" font-size="26.5" text-anchor="middle" fill="#262626" textLength="43.6" lengthAdjust="spacingAndGlyphs">0.8</text>
<line x1="685.1" y1="1155.9" x2="685.1" y2="1149.9" stroke="#707070"/>
<line x1="685.1" y1="742.8" x2="685.1" y2="748.8" stroke="#707070"/>
<text x="685.1" y="1192.0" font-size="26.5" text-anchor="middle" fill="#262626" textLength="14.7" lengthAdjust="spacingAndGlyphs">1</text>
<line x1="771.0" y1="1155.9" x2="771.0" y2="1149.9" stroke="#707070"/>
<line x1="771.0" y1="742.8" x2="771.0" y2="748.8" stroke="#707070"/>
<text x="771.0" y="1192.0" font-size="26.5" text-anchor="middle" fill="#262626" textLength="43.6" lengthAdjust="spacingAndGlyphs">1.2</text>
<line x1="169.6" y1="742.8" x2="175.6" y2="742.8" stroke="#707070"/>
<line x1="770.4" y1="742.8" x2="764.4" y2="742.8" stroke="#707070"/>
<text x="158.0" y="752.3" font-size="26.5" text-anchor="end" fill="#262626" textLength="42.6" lengthAdjust="spacingAndGlyphs">0.4</text>
<line x1="169.6" y1="846.1" x2="175.6" y2="846.1" stroke="#707070"/>
<line x1="770.4" y1="846.1" x2="764.4" y2="846.1" stroke="#707070"/>
<text x="158.0" y="855.6" font-size="26.5" text-anchor="end" fill="#262626" textLength="42.6" lengthAdjust="spacingAndGlyphs">0.2</text>
<line x1="169.6" y1="949.4" x2="175.6" y2="949.4" stroke="#707070"/>
<line x1="770.4" y1="949.4" x2="764.4" y2="949.4" stroke="#707070"/>
<text x="158.0" y="958.9" font-size="26.5" text-anchor="end" fill="#262626" textLength="18.1" lengthAdjust="spacingAndGlyphs">0</text>
<line x1="169.6" y1="1052.7" x2="175.6" y2="1052.7" stroke="#707070"/>
<line x1="770.4" y1="1052.7" x2="764.4" y2="1052.7" stroke="#707070"/>
<text x="158.0" y="1062.2" font-size="26.5" text-anchor="end" fill="#262626" textLength="53.1" lengthAdjust="spacingAndGlyphs">-0.2</text>
<line x1="169.6" y1="1156.0" x2="175.6" y2="1156.0" stroke="#707070"/>
<line x1="770.4" y1="1156.0" x2="764.4" y2="1156.0" stroke="#707070"/>
<text x="158.0" y="1165.5" font-size="26.5" text-anchor="end" fill="#262626" textLength="53.1" lengthAdjust="spacingAndGlyphs">-0.4</text>
<text x="470.5" y="1225.8" font-size="26.5" text-anchor="middle" fill="#262626" textLength="111.2" lengthAdjust="spacingAndGlyphs">Time (s)</text>
<text x="96.8" y="950.1" font-size="29.5" text-anchor="middle" fill="#262626" textLength="358.9" lengthAdjust="spacingAndGlyphs" transform="rotate(-90 96.8 950.1)">State Occupancy level (a.u.)</text>
<text x="266.5" y="780.8" font-size="20.2" font-weight="bold" text-anchor="middle" textLength="88.2" lengthAdjust="spacingAndGlyphs">Stimulus</text>
<text x="223.4" y="803.6" font-size="20.2" font-weight="bold">Onset</text>
<text x="470.7" y="792.2" font-size="20.2" font-weight="bold" text-anchor="middle" textLength="86.4" lengthAdjust="spacingAndGlyphs">Mean RT</text>
<line x1="628.8" y1="772.8" x2="685" y2="772.8" stroke="#F08080" stroke-width="5.6"/>
<text x="690.7" y="779.3" font-size="18" fill="#111" textLength="58.8" lengthAdjust="spacingAndGlyphs">State 1</text>
<line x1="628.8" y1="794.9" x2="685" y2="794.9" stroke="#DAA520" stroke-width="5.6"/>
<text x="690.7" y="801.4" font-size="18" fill="#111" textLength="58.8" lengthAdjust="spacingAndGlyphs">State 2</text>
<line x1="628.8" y1="816.9" x2="685" y2="816.9" stroke="#9ACD32" stroke-width="5.6"/>
<text x="690.7" y="823.4" font-size="18" fill="#111" textLength="58.8" lengthAdjust="spacingAndGlyphs">State 3</text>
<line x1="628.8" y1="839.0" x2="685" y2="839.0" stroke="#20B2AA" stroke-width="5.6"/>
<text x="690.7" y="845.5" font-size="18" fill="#111" textLength="58.8" lengthAdjust="spacingAndGlyphs">State 4</text>
<line x1="628.8" y1="861.4" x2="685" y2="861.4" stroke="#1E90FF" stroke-width="5.6"/>
<text x="690.7" y="867.9" font-size="18" fill="#111" textLength="58.8" lengthAdjust="spacingAndGlyphs">State 5</text>
<line x1="628.8" y1="883.4" x2="685" y2="883.4" stroke="#BA55D3" stroke-width="5.6"/>
<text x="690.7" y="889.9" font-size="18" fill="#111" textLength="58.8" lengthAdjust="spacingAndGlyphs">State 6</text>
<g transform="translate(1060.50 112.80) scale(0.49173 0.49010) translate(-68.2 -143.0)">
<rect x="68.2" y="143.0" width="725.8" height="303.0" fill="#1E90FF"/>
<polygon points="68.2,143.0 73.6,143.0 73.6,188.6 68.2,188.6" fill="#BA55D3" stroke="#333" stroke-width="1.5" stroke-linejoin="round"/>
<polygon points="68.2,272.7 73.6,272.7 73.6,305.4 68.2,305.4" fill="#20B2AA" stroke="#333" stroke-width="1.5" stroke-linejoin="round"/>
<polygon points="68.2,305.4 73.6,305.4 73.6,349.8 68.2,349.8" fill="#9ACD32" stroke="#333" stroke-width="1.5" stroke-linejoin="round"/>
<polygon points="68.2,349.8 73.6,349.8 73.6,406.4 68.2,406.4" fill="#DAA520" stroke="#333" stroke-width="1.5" stroke-linejoin="round"/>
<polygon points="68.2,406.4 73.6,406.4 73.6,446.0 68.2,446.0" fill="#F08080" stroke="#333" stroke-width="1.5" stroke-linejoin="round"/>
<polygon points="73.6,143.0 103.0,143.0 105.0,250.0 107.0,380.0 108.0,446.0 73.6,446.0" fill="#F08080" stroke="#333" stroke-width="1.5" stroke-linejoin="round"/>
<polygon points="118.5,446.0 120.5,320.0 123.0,200.0 125.5,155.0 128.0,143.0 132.7,143.0 133.5,250.0 135.5,446.0" fill="#9ACD32" stroke="#333" stroke-width="1.5" stroke-linejoin="round"/>
<polygon points="134.6,143.0 150.2,143.0 149.5,300.0 148.5,446.0 137.4,446.0 135.5,300.0" fill="#BA55D3" stroke="#333" stroke-width="1.5" stroke-linejoin="round"/>
<polygon points="148.5,259.0 151.0,262.0 153.5,446.0 147.5,446.0" fill="#F08080" stroke="#333" stroke-width="1.5" stroke-linejoin="round"/>
<polygon points="159.5,143.0 161.5,143.0 163.0,300.0 164.5,390.0 167.0,396.0 169.0,391.0 170.5,420.0 175.0,440.0 180.0,446.0 155.0,446.0 157.0,350.0 158.5,250.0" fill="#9ACD32" stroke="#333" stroke-width="1.5" stroke-linejoin="round"/>
<polygon points="196.5,143.0 201.5,143.0 200.0,190.0 197.5,190.0" fill="#BA55D3" stroke="#333" stroke-width="1.5" stroke-linejoin="round"/>
<polygon points="196.5,180.0 200.0,180.0 202.0,226.0 200.5,446.0 194.5,446.0 195.5,300.0" fill="#DAA520" stroke="#333" stroke-width="1.5" stroke-linejoin="round"/>
<polygon points="201.0,226.0 204.0,232.0 209.5,446.0 200.5,446.0" fill="#F08080" stroke="#333" stroke-width="1.5" stroke-linejoin="round"/>
<polygon points="216.0,446.0 217.5,300.0 219.0,180.0 221.0,146.0 223.0,143.0 225.0,150.0 226.0,250.0 227.5,446.0" fill="#DAA520" stroke="#333" stroke-width="1.5" stroke-linejoin="round"/>
<polygon points="221.5,446.0 223.5,432.0 225.5,428.0 227.5,446.0" fill="#F08080" stroke="#333" stroke-width="1.5" stroke-linejoin="round"/>
<polygon points="242.0,446.0 243.0,300.0 245.5,180.0 248.0,148.0 251.0,143.0 254.0,146.0 256.0,220.0 257.8,446.0" fill="#9ACD32" stroke="#333" stroke-width="1.5" stroke-linejoin="round"/>
<polygon points="282.3,446.0 286.0,300.0 290.0,160.0 292.5,143.0 294.5,150.0 296.0,280.0 296.0,446.0" fill="#9ACD32" stroke="#333" stroke-width="1.5" stroke-linejoin="round"/>
<polygon points="295.5,275.0 297.5,295.0 299.0,400.0 301.0,446.0 293.0,446.0 294.5,320.0" fill="#DAA520" stroke="#333" stroke-width="1.5" stroke-linejoin="round"/>
<polygon points="328.0,446.0 330.0,300.0 332.0,155.0 334.5,143.0 337.0,150.0 338.5,300.0 339.6,446.0" fill="#9ACD32" stroke="#333" stroke-width="1.5" stroke-linejoin="round"/>
<polygon points="347.8,143.0 365.3,143.0 367.0,220.0 370.0,320.0 372.3,446.0 344.3,446.0 345.5,350.0 346.5,250.0" fill="#9ACD32" stroke="#333" stroke-width="1.5" stroke-linejoin="round"/>
<polygon points="355.0,143.0 362.0,143.0 358.5,152.0" fill="#1E90FF" stroke="#333" stroke-width="1.5" stroke-linejoin="round"/>
<polygon points="365.3,143.0 410.0,143.0 410.0,446.0 372.3,446.0 370.0,320.0 367.0,220.0" fill="#BA55D3" stroke="#333" stroke-width="1.5" stroke-linejoin="round"/>
<polygon points="410.0,143.0 413.2,143.0 414.0,300.0 415.6,446.0 410.0,446.0" fill="#DAA520" stroke="#333" stroke-width="1.5" stroke-linejoin="round"/>
<polygon points="413.2,143.0 435.4,143.0 436.0,300.0 436.0,446.0 415.6,446.0 414.0,300.0" fill="#9ACD32" stroke="#333" stroke-width="1.5" stroke-linejoin="round"/>
<polygon points="429.6,143.0 434.3,143.0 432.0,156.0" fill="#1E90FF" stroke="#333" stroke-width="1.5" stroke-linejoin="round"/>
<polygon points="435.4,143.0 440.0,143.0 438.0,205.0 436.5,205.0" fill="#BA55D3" stroke="#333" stroke-width="1.5" stroke-linejoin="round"/>
<polygon points="440.0,143.0 448.3,143.0 449.5,300.0 450.6,446.0 435.5,446.0 436.0,300.0 437.0,205.0" fill="#F08080" stroke="#333" stroke-width="1.5" stroke-linejoin="round"/>
<polygon points="449.0,250.0 451.0,250.0 453.5,446.0 450.6,446.0" fill="#9ACD32" stroke="#333" stroke-width="1.5" stroke-linejoin="round"/>
<polygon points="466.0,158.0 469.0,152.0 471.0,143.0 474.0,143.0 476.0,300.0 478.7,446.0 462.3,446.0 463.5,300.0 465.0,200.0" fill="#F08080" stroke="#333" stroke-width="1.5" stroke-linejoin="round"/>
<polygon points="474.0,143.0 478.0,143.0 478.7,320.0 476.8,320.0 475.5,220.0" fill="#DAA520" stroke="#333" stroke-width="1.5" stroke-linejoin="round"/>
<polygon points="493.9,446.0 495.0,250.0 496.2,143.0 500.9,143.0 502.0,200.0 504.4,446.0" fill="#F08080" stroke="#333" stroke-width="1.5" stroke-linejoin="round"/>
<polygon points="504.0,230.0 507.0,170.0 509.5,143.0 510.5,143.0 510.0,446.0 504.0,446.0" fill="#9ACD32" stroke="#333" stroke-width="1.5" stroke-linejoin="round"/>
<polygon points="510.0,143.0 518.0,143.0 519.6,446.0 509.0,446.0" fill="#DAA520" stroke="#333" stroke-width="1.5" stroke-linejoin="round"/>
<polygon points="518.0,143.0 531.3,143.0 531.0,446.0 521.5,446.0" fill="#BA55D3" stroke="#333" stroke-width="1.5" stroke-linejoin="round"/>
<polygon points="526.0,446.0 528.0,425.0 530.5,415.0 531.0,446.0" fill="#20B2AA" stroke="#333" stroke-width="1.5" stroke-linejoin="round"/>
<polygon points="531.3,143.0 541.0,143.0 542.0,446.0 531.0,446.0" fill="#F08080" stroke="#333" stroke-width="1.5" stroke-linejoin="round"/>
<polygon points="541.0,143.0 611.0,143.0 609.6,446.0 542.0,446.0" fill="#20B2AA" stroke="#333" stroke-width="1.5" stroke-linejoin="round"/>
<polygon points="611.0,143.0 615.4,143.0 616.5,446.0 609.6,446.0" fill="#F08080" stroke="#333" stroke-width="1.5" stroke-linejoin="round"/>
<polygon points="615.4,143.0 621.3,143.0 624.8,446.0 616.5,446.0" fill="#DAA520" stroke="#333" stroke-width="1.5" stroke-linejoin="round"/>
<polygon points="634.0,446.0 635.5,330.0 638.0,240.0 641.0,190.0 645.0,165.0 648.0,158.0 650.0,143.0 653.0,143.0 653.0,446.0" fill="#DAA520" stroke="#333" stroke-width="1.5" stroke-linejoin="round"/>
<polygon points="640.0,366.0 638.8,260.0 640.5,190.0 643.5,162.0 646.0,162.0 648.0,190.0 648.5,280.0 647.0,362.0 643.0,372.0" fill="#9ACD32" stroke="#333" stroke-width="1.5" stroke-linejoin="round"/>
<polygon points="638.0,446.0 641.0,380.0 646.0,370.0 651.5,368.0 651.7,143.0 656.4,143.0 656.4,446.0" fill="#F08080" stroke="#333" stroke-width="1.5" stroke-linejoin="round"/>
<polygon points="656.4,143.0 696.0,143.0 699.6,446.0 656.4,446.0" fill="#BA55D3" stroke="#333" stroke-width="1.5" stroke-linejoin="round"/>
<polygon points="706.6,143.0 709.5,143.0 710.5,446.0 705.5,446.0" fill="#9ACD32" stroke="#333" stroke-width="1.5" stroke-linejoin="round"/>
<polygon points="707.5,385.0 709.0,388.0 712.0,446.0 704.3,446.0" fill="#DAA520" stroke="#333" stroke-width="1.5" stroke-linejoin="round"/>
<polygon points="709.5,143.0 734.6,143.0 734.6,446.0 710.5,446.0" fill="#BA55D3" stroke="#333" stroke-width="1.5" stroke-linejoin="round"/>
<polygon points="734.6,143.0 794.0,143.0 794.0,446.0 734.6,446.0" fill="#9ACD32" stroke="#333" stroke-width="1.5" stroke-linejoin="round"/>
<polygon points="735.7,143.0 746.2,143.0 744.8,175.0 743.6,250.0 742.6,330.0 741.2,390.0 740.4,409.0 739.6,390.0 738.6,320.0 737.5,230.0 736.4,170.0" fill="#1E90FF" stroke="#333" stroke-width="1.5" stroke-linejoin="round"/>
<polygon points="768.4,143.0 777.8,143.0 776.6,187.0 775.5,240.0 774.3,280.0 773.2,330.0 772.0,378.0 771.0,330.0 770.3,280.0 769.6,200.0 768.9,165.0" fill="#1E90FF" stroke="#333" stroke-width="1.5" stroke-linejoin="round"/>
<polygon points="780.0,143.0 793.0,143.0 792.5,170.0 791.8,210.0 789.4,303.0 788.3,374.0 786.0,411.0 784.3,374.0 783.0,303.0 781.3,210.0 780.5,170.0" fill="#1E90FF" stroke="#333" stroke-width="1.5" stroke-linejoin="round"/>
</g>
<rect x="1060.5" y="112.8" width="356.9" height="148.5" fill="none" stroke="#262626" stroke-width="0.8"/>
<line x1="1060.5" y1="261.3" x2="1063.5" y2="261.3" stroke="#262626" stroke-width="0.6"/>
<line x1="1417.4" y1="261.3" x2="1414.4" y2="261.3" stroke="#262626" stroke-width="0.6"/>
<text x="1056.0" y="264.8" font-size="10" text-anchor="end" fill="#262626">0</text>
<line x1="1060.5" y1="231.6" x2="1063.5" y2="231.6" stroke="#262626" stroke-width="0.6"/>
<line x1="1417.4" y1="231.6" x2="1414.4" y2="231.6" stroke="#262626" stroke-width="0.6"/>
<text x="1056.0" y="235.1" font-size="10" text-anchor="end" fill="#262626">0.2</text>
<line x1="1060.5" y1="201.9" x2="1063.5" y2="201.9" stroke="#262626" stroke-width="0.6"/>
<line x1="1417.4" y1="201.9" x2="1414.4" y2="201.9" stroke="#262626" stroke-width="0.6"/>
<text x="1056.0" y="205.4" font-size="10" text-anchor="end" fill="#262626">0.4</text>
<line x1="1060.5" y1="172.2" x2="1063.5" y2="172.2" stroke="#262626" stroke-width="0.6"/>
<line x1="1417.4" y1="172.2" x2="1414.4" y2="172.2" stroke="#262626" stroke-width="0.6"/>
<text x="1056.0" y="175.7" font-size="10" text-anchor="end" fill="#262626">0.6</text>
<line x1="1060.5" y1="142.5" x2="1063.5" y2="142.5" stroke="#262626" stroke-width="0.6"/>
<line x1="1417.4" y1="142.5" x2="1414.4" y2="142.5" stroke="#262626" stroke-width="0.6"/>
<text x="1056.0" y="146.0" font-size="10" text-anchor="end" fill="#262626">0.8</text>
<line x1="1060.5" y1="112.8" x2="1063.5" y2="112.8" stroke="#262626" stroke-width="0.6"/>
<line x1="1417.4" y1="112.8" x2="1414.4" y2="112.8" stroke="#262626" stroke-width="0.6"/>
<text x="1056.0" y="116.3" font-size="10" text-anchor="end" fill="#262626">1</text>
<text x="1036.0" y="187.0" font-size="12.3" text-anchor="middle" fill="#262626" textLength="129.9" lengthAdjust="spacingAndGlyphs" transform="rotate(-90 1036.0 187.0)">Probability of activation</text>
<text x="1238.7" y="277.8" font-size="12" text-anchor="middle" fill="#262626" textLength="54.0" lengthAdjust="spacingAndGlyphs">Time (ms)</text>
<text x="1230.7" y="87.5" font-size="21" font-weight="bold" text-anchor="middle" textLength="232.5" lengthAdjust="spacingAndGlyphs">Posterior probabilities</text>
<text x="1230.5" y="105.0" font-size="13" text-anchor="middle" textLength="132.3" lengthAdjust="spacingAndGlyphs">time course (per state)</text>
<circle cx="1468" cy="176.1" r="15.3" fill="none" stroke="#000" stroke-width="2.6"/>
<line x1="1457.2" y1="165.3" x2="1478.8" y2="186.9" stroke="#000" stroke-width="2.6"/>
<line x1="1478.8" y1="165.3" x2="1457.2" y2="186.9" stroke="#000" stroke-width="2.6"/>
<text x="1502.0" y="145.5" font-size="17.5" transform="rotate(-18.5 1502.0 145.5)">Source 1</text>
<text x="1502.5" y="171.0" font-size="17.5" transform="rotate(-18.5 1502.5 171.0)">Source 2</text>
<text x="1549.0" y="193.0" font-size="17" text-anchor="middle">…</text>
<text x="1500.5" y="252.5" font-size="17.5" transform="rotate(-18.5 1500.5 252.5)">Source 42</text>
<text x="1769.4" y="97.1" font-size="20.5" font-weight="bold" text-anchor="middle" textLength="217.2" lengthAdjust="spacingAndGlyphs">Concatenated matrix</text>
<rect x="1580.4" y="110.9" width="377.6" height="147.9" fill="none" stroke="#000" stroke-width="2.2"/>
<line x1="1674.8" y1="110.9" x2="1674.8" y2="258.8" stroke="#000" stroke-width="2.2"/>
<line x1="1769.1" y1="110.9" x2="1769.1" y2="258.8" stroke="#000" stroke-width="2.2"/>
<line x1="1863.2" y1="110.9" x2="1863.2" y2="258.8" stroke="#000" stroke-width="2.2"/>
<text x="1627.1" y="192.0" font-size="17" text-anchor="middle" textLength="50.4" lengthAdjust="spacingAndGlyphs">Subj 1</text>
<text x="1721.5" y="192.0" font-size="17" text-anchor="middle" textLength="51.2" lengthAdjust="spacingAndGlyphs">Subj 2</text>
<text x="1815.9" y="192.0" font-size="17" font-weight="bold" text-anchor="middle">...</text>
<text x="1909.8" y="192.0" font-size="17" text-anchor="middle" textLength="60.9" lengthAdjust="spacingAndGlyphs">Subj 38</text>
<path d="M1220.5,291 L1220.5,302 Q1220.5,304 1222.5,304 L1715.1,304 Q1717.1,304 1717.1,302 L1717.1,291" fill="none" stroke="#000" stroke-width="2"/>
<polygon points="1457.6,304 1479.4,304 1468.5,320.4" fill="#000"/>
<line x1="1468.6" y1="318" x2="1469" y2="345.4" stroke="#000" stroke-width="1.8"/>
<rect x="1186.7" y="345.4" width="562.9" height="78" fill="#E2EFDA"/>
<text x="1468.2" y="382.1" font-size="30" font-weight="bold" text-anchor="middle" textLength="402.0" lengthAdjust="spacingAndGlyphs">Multitaper spectral analysis</text>
<text x="1468.5" y="410.4" font-size="21.5" text-anchor="middle" textLength="148.3" lengthAdjust="spacingAndGlyphs">(for each state)</text>
<line x1="1469.9" y1="423.4" x2="1470.1" y2="448.1" stroke="#000" stroke-width="1.8"/>
<path d="M1177,466.6 L1177,451 Q1177,448.1 1180,448.1 L1760.6,448.1 Q1763.6,448.1 1763.6,451 L1763.6,466.6" fill="none" stroke="#000" stroke-width="2"/>
<text x="1176.7" y="512.4" font-size="30" font-weight="bold" text-anchor="middle" textLength="438.5" lengthAdjust="spacingAndGlyphs">Power Spectral Density – PSD</text>
<text x="1176.7" y="567.5" font-size="25.5" text-anchor="middle" textLength="475.6" lengthAdjust="spacingAndGlyphs">Plot statewise mean PSD across regions</text>
<text x="1176.7" y="595.3" font-size="21.5" text-anchor="middle" textLength="289.4" lengthAdjust="spacingAndGlyphs">Mean and std across subjects</text>
<clipPath id="cpsd"><rect x="992" y="618" width="396.2" height="360.9"/></clipPath>
<g clip-path="url(#cpsd)">
<path d="M992.0,731.7 C994.0,730.0 1001.2,721.9 1004.1,721.3 C1007.0,720.7 1007.3,722.5 1009.3,728.2 C1011.3,734.0 1013.4,745.0 1016.3,756.0 C1019.1,767.0 1023.2,784.9 1026.7,794.1 C1030.1,803.4 1033.6,808.0 1037.1,811.4 C1040.5,814.9 1044.0,815.5 1047.5,814.9 C1050.9,814.3 1053.8,809.7 1057.9,808.0 C1061.9,806.2 1067.7,804.5 1071.7,804.5 C1075.8,804.5 1078.6,805.1 1082.1,808.0 C1085.6,810.9 1088.5,816.1 1092.5,821.8 C1096.6,827.6 1101.8,835.7 1106.4,842.6 C1111.0,849.6 1115.6,858.2 1120.2,863.4 C1124.9,868.6 1129.5,870.7 1134.1,873.8 C1138.7,877.0 1142.8,879.3 1148.0,882.5 C1153.2,885.7 1159.5,889.7 1165.3,892.9 C1171.1,896.1 1176.9,898.7 1182.6,901.6 C1188.4,904.4 1194.2,907.8 1200.0,910.2 C1205.7,912.7 1211.5,914.2 1217.3,916.1 C1223.1,918.0 1228.9,919.9 1234.6,921.7 C1240.4,923.5 1246.2,925.3 1252.0,926.9 C1257.7,928.4 1263.5,929.8 1269.3,931.0 C1275.1,932.3 1280.8,933.3 1286.6,934.5 C1292.4,935.6 1298.2,937.0 1304.0,938.0 C1309.7,938.9 1315.5,939.7 1321.3,940.4 C1327.1,941.1 1332.8,941.5 1338.6,942.1 C1344.4,942.7 1350.2,943.0 1355.9,943.8 C1361.7,944.7 1367.9,946.2 1373.3,947.3 C1378.6,948.5 1385.7,950.2 1388.2,950.8 L1388.2,956.3 C1385.7,955.7 1378.6,954.0 1373.3,952.9 C1367.9,951.7 1361.7,950.3 1355.9,949.4 C1350.2,948.5 1344.4,948.2 1338.6,947.7 C1332.8,947.1 1327.1,946.4 1321.3,945.9 C1315.5,945.5 1309.7,945.6 1304.0,944.9 C1298.2,944.1 1292.4,942.6 1286.6,941.4 C1280.8,940.3 1275.1,939.0 1269.3,938.0 C1263.5,936.9 1257.7,936.5 1252.0,935.2 C1246.2,933.9 1240.4,931.7 1234.6,930.0 C1228.9,928.3 1223.1,926.7 1217.3,925.1 C1211.5,923.6 1205.7,922.5 1200.0,920.6 C1194.2,918.7 1188.4,916.0 1182.6,913.7 C1176.9,911.4 1171.1,909.1 1165.3,906.8 C1159.5,904.4 1153.2,902.0 1148.0,899.8 C1142.8,897.7 1138.7,896.0 1134.1,893.9 C1129.5,891.9 1124.9,889.3 1120.2,887.7 C1115.6,886.1 1111.0,886.0 1106.4,884.2 C1101.8,882.5 1097.1,879.6 1092.5,877.3 C1087.9,875.0 1083.3,872.7 1078.6,870.4 C1074.0,868.1 1069.4,865.7 1064.8,863.4 C1060.2,861.1 1055.5,859.4 1050.9,856.5 C1046.3,853.6 1041.7,850.1 1037.1,846.1 C1032.4,842.1 1027.2,838.0 1023.2,832.2 C1019.1,826.5 1016.0,817.8 1012.8,811.4 C1009.6,805.1 1007.6,794.7 1004.1,794.1 C1000.7,793.5 994.0,805.7 992.0,808.0 Z" fill="#F08080" fill-opacity="0.3" stroke="none"/>
<path d="M992.0,771.6 C993.1,770.1 996.9,765.0 998.9,762.9 C1000.9,760.8 1002.7,759.0 1004.1,758.8 C1005.6,758.5 1006.1,757.6 1007.6,761.2 C1009.0,764.8 1010.8,773.6 1012.8,780.2 C1014.8,786.9 1017.4,794.7 1019.7,801.0 C1022.0,807.4 1023.8,813.2 1026.7,818.4 C1029.5,823.6 1033.6,828.2 1037.1,832.2 C1040.5,836.3 1043.4,839.7 1047.5,842.6 C1051.5,845.5 1056.1,847.3 1061.3,849.6 C1066.5,851.9 1074.0,854.2 1078.6,856.5 C1083.3,858.8 1085.6,861.1 1089.0,863.4 C1092.5,865.7 1096.0,868.1 1099.4,870.4 C1102.9,872.7 1106.4,875.6 1109.8,877.3 C1113.3,879.0 1116.2,879.0 1120.2,880.8 C1124.3,882.5 1129.5,885.4 1134.1,887.7 C1138.7,890.0 1142.8,892.3 1148.0,894.6 C1153.2,896.9 1159.5,899.2 1165.3,901.6 C1171.1,903.9 1176.9,906.2 1182.6,908.5 C1188.4,910.8 1194.2,913.4 1200.0,915.4 C1205.7,917.4 1211.5,918.9 1217.3,920.6 C1223.1,922.4 1228.9,924.1 1234.6,925.8 C1240.4,927.6 1246.2,929.6 1252.0,931.0 C1257.7,932.5 1263.5,933.3 1269.3,934.5 C1275.1,935.6 1280.8,936.8 1286.6,938.0 C1292.4,939.1 1298.2,940.6 1304.0,941.4 C1309.7,942.3 1315.5,942.6 1321.3,943.2 C1327.1,943.7 1332.8,944.3 1338.6,944.9 C1344.4,945.5 1350.2,945.8 1355.9,946.6 C1361.7,947.5 1367.9,948.9 1373.3,950.1 C1378.6,951.2 1385.7,953.0 1388.2,953.6" stroke="#F08080" fill="none" stroke-width="3.2" stroke-linejoin="round"/>
<path d="M992.0,852.3 C993.1,851.5 996.6,848.3 998.9,847.1 C1001.2,846.0 1003.5,844.8 1005.9,845.4 C1008.2,846.0 1009.9,849.2 1012.8,850.6 C1015.7,852.1 1019.7,853.2 1023.2,854.1 C1026.7,854.9 1030.1,856.1 1033.6,855.8 C1037.1,855.5 1039.9,854.7 1044.0,852.3 C1048.0,850.0 1053.2,844.8 1057.9,841.9 C1062.5,839.1 1067.7,836.5 1071.7,835.0 C1075.8,833.6 1078.6,832.4 1082.1,833.3 C1085.6,834.1 1089.0,837.0 1092.5,840.2 C1096.0,843.4 1099.4,848.6 1102.9,852.3 C1106.4,856.1 1109.3,859.8 1113.3,862.7 C1117.4,865.6 1122.6,867.4 1127.2,869.7 C1131.8,872.0 1136.4,874.3 1141.0,876.6 C1145.7,878.9 1150.3,881.5 1154.9,883.5 C1159.5,885.6 1164.1,887.0 1168.8,888.7 C1173.4,890.5 1177.4,891.9 1182.6,893.9 C1187.8,896.0 1194.2,898.8 1200.0,900.9 C1205.7,902.9 1211.5,904.3 1217.3,906.1 C1223.1,907.8 1228.9,909.5 1234.6,911.3 C1240.4,913.0 1246.2,914.7 1252.0,916.5 C1257.7,918.2 1263.5,920.2 1269.3,921.7 C1275.1,923.1 1280.8,924.0 1286.6,925.1 C1292.4,926.3 1298.2,927.4 1304.0,928.6 C1309.7,929.8 1315.5,930.9 1321.3,932.1 C1327.1,933.2 1332.8,934.4 1338.6,935.5 C1344.4,936.7 1350.2,938.1 1355.9,939.0 C1361.7,939.9 1367.9,939.9 1373.3,940.7 C1378.6,941.6 1385.7,943.6 1388.2,944.2 L1388.2,966.4 C1385.7,965.8 1378.6,963.8 1373.3,962.9 C1367.9,962.0 1361.7,962.0 1355.9,961.2 C1350.2,960.3 1344.4,958.9 1338.6,957.7 C1332.8,956.6 1327.1,955.4 1321.3,954.2 C1315.5,953.1 1309.7,951.9 1304.0,950.8 C1298.2,949.6 1292.4,948.5 1286.6,947.3 C1280.8,946.2 1275.1,945.3 1269.3,943.8 C1263.5,942.4 1257.7,940.4 1252.0,938.6 C1246.2,936.9 1240.4,935.2 1234.6,933.4 C1228.9,931.7 1223.1,930.0 1217.3,928.2 C1211.5,926.5 1205.7,925.1 1200.0,923.1 C1194.2,921.0 1187.8,918.1 1182.6,916.1 C1177.4,914.1 1173.4,912.7 1168.8,910.9 C1164.1,909.2 1159.5,907.7 1154.9,905.7 C1150.3,903.7 1145.7,901.1 1141.0,898.8 C1136.4,896.5 1131.8,894.2 1127.2,891.9 C1122.6,889.5 1117.4,887.8 1113.3,884.9 C1109.3,882.0 1106.4,878.3 1102.9,874.5 C1099.4,870.8 1096.0,865.6 1092.5,862.4 C1089.0,859.2 1085.6,856.3 1082.1,855.5 C1078.6,854.6 1075.8,855.7 1071.7,857.2 C1067.7,858.6 1062.5,861.2 1057.9,864.1 C1053.2,867.0 1048.0,872.2 1044.0,874.5 C1039.9,876.8 1037.1,877.7 1033.6,878.0 C1030.1,878.3 1026.7,877.1 1023.2,876.3 C1019.7,875.4 1015.7,874.2 1012.8,872.8 C1009.9,871.3 1008.2,868.2 1005.9,867.6 C1003.5,867.0 1001.2,868.2 998.9,869.3 C996.6,870.5 993.1,873.7 992.0,874.5 Z" fill="#DAA520" fill-opacity="0.3" stroke="none"/>
<path d="M992.0,863.4 C993.1,862.6 996.6,859.4 998.9,858.2 C1001.2,857.1 1003.5,855.9 1005.9,856.5 C1008.2,857.1 1009.9,860.3 1012.8,861.7 C1015.7,863.1 1019.7,864.3 1023.2,865.2 C1026.7,866.0 1030.1,867.2 1033.6,866.9 C1037.1,866.6 1039.9,865.7 1044.0,863.4 C1048.0,861.1 1053.2,855.9 1057.9,853.0 C1062.5,850.1 1067.7,847.5 1071.7,846.1 C1075.8,844.7 1078.6,843.5 1082.1,844.4 C1085.6,845.2 1089.0,848.1 1092.5,851.3 C1096.0,854.5 1099.4,859.7 1102.9,863.4 C1106.4,867.2 1109.3,870.9 1113.3,873.8 C1117.4,876.7 1122.6,878.5 1127.2,880.8 C1131.8,883.1 1136.4,885.4 1141.0,887.7 C1145.7,890.0 1150.3,892.6 1154.9,894.6 C1159.5,896.6 1164.1,898.1 1168.8,899.8 C1173.4,901.6 1177.4,903.0 1182.6,905.0 C1187.8,907.0 1194.2,909.9 1200.0,912.0 C1205.7,914.0 1211.5,915.4 1217.3,917.2 C1223.1,918.9 1228.9,920.6 1234.6,922.4 C1240.4,924.1 1246.2,925.8 1252.0,927.6 C1257.7,929.3 1263.5,931.3 1269.3,932.8 C1275.1,934.2 1280.8,935.1 1286.6,936.2 C1292.4,937.4 1298.2,938.5 1304.0,939.7 C1309.7,940.8 1315.5,942.0 1321.3,943.2 C1327.1,944.3 1332.8,945.5 1338.6,946.6 C1344.4,947.8 1350.2,949.2 1355.9,950.1 C1361.7,951.0 1367.9,951.0 1373.3,951.8 C1378.6,952.7 1385.7,954.7 1388.2,955.3" stroke="#DAA520" fill="none" stroke-width="3.2" stroke-linejoin="round"/>
<path d="M992.0,861.0 C993.1,860.1 996.6,857.0 998.9,855.8 C1001.2,854.7 1003.5,853.5 1005.9,854.1 C1008.2,854.7 1009.3,857.3 1012.8,859.3 C1016.3,861.3 1021.5,864.5 1026.7,866.2 C1031.9,867.9 1038.2,869.4 1044.0,869.7 C1049.8,870.0 1056.1,868.5 1061.3,867.9 C1066.5,867.4 1071.1,866.2 1075.2,866.2 C1079.2,866.2 1081.5,866.8 1085.6,867.9 C1089.6,869.1 1094.8,871.4 1099.4,873.1 C1104.1,874.9 1108.7,877.2 1113.3,878.3 C1117.9,879.5 1121.4,878.9 1127.2,880.1 C1133.0,881.2 1141.6,883.5 1148.0,885.3 C1154.3,887.0 1159.5,888.7 1165.3,890.5 C1171.1,892.2 1176.9,893.6 1182.6,895.7 C1188.4,897.7 1194.2,900.6 1200.0,902.6 C1205.7,904.6 1211.5,906.1 1217.3,907.8 C1223.1,909.5 1228.9,911.0 1234.6,913.0 C1240.4,915.0 1246.2,917.9 1252.0,919.9 C1257.7,922.0 1263.5,923.7 1269.3,925.1 C1275.1,926.6 1280.8,927.4 1286.6,928.6 C1292.4,929.8 1298.2,930.9 1304.0,932.1 C1309.7,933.2 1315.5,934.4 1321.3,935.5 C1327.1,936.7 1332.8,937.8 1338.6,939.0 C1344.4,940.2 1350.2,941.6 1355.9,942.5 C1361.7,943.3 1367.9,943.3 1373.3,944.2 C1378.6,945.1 1385.7,947.1 1388.2,947.7 L1388.2,962.9 C1385.7,962.3 1378.6,960.3 1373.3,959.4 C1367.9,958.6 1361.7,958.6 1355.9,957.7 C1350.2,956.8 1344.4,955.4 1338.6,954.2 C1332.8,953.1 1327.1,951.9 1321.3,950.8 C1315.5,949.6 1309.7,948.5 1304.0,947.3 C1298.2,946.2 1292.4,945.0 1286.6,943.8 C1280.8,942.7 1275.1,941.8 1269.3,940.4 C1263.5,938.9 1257.7,937.2 1252.0,935.2 C1246.2,933.2 1240.4,930.3 1234.6,928.2 C1228.9,926.2 1223.1,924.8 1217.3,923.1 C1211.5,921.3 1205.7,919.9 1200.0,917.9 C1194.2,915.8 1188.4,912.9 1182.6,910.9 C1176.9,908.9 1171.1,907.5 1165.3,905.7 C1159.5,904.0 1154.3,902.3 1148.0,900.5 C1141.6,898.8 1133.0,896.5 1127.2,895.3 C1121.4,894.2 1117.9,894.7 1113.3,893.6 C1108.7,892.4 1104.1,890.1 1099.4,888.4 C1094.8,886.7 1089.6,884.3 1085.6,883.2 C1081.5,882.0 1079.2,881.5 1075.2,881.5 C1071.1,881.5 1066.5,882.6 1061.3,883.2 C1056.1,883.8 1049.8,885.2 1044.0,884.9 C1038.2,884.6 1031.9,883.2 1026.7,881.5 C1021.5,879.7 1016.3,876.5 1012.8,874.5 C1009.3,872.5 1008.2,869.9 1005.9,869.3 C1003.5,868.7 1001.2,869.9 998.9,871.1 C996.6,872.2 993.1,875.4 992.0,876.3 Z" fill="#9ACD32" fill-opacity="0.3" stroke="none"/>
<path d="M992.0,868.6 C993.1,867.8 996.6,864.6 998.9,863.4 C1001.2,862.3 1003.5,861.1 1005.9,861.7 C1008.2,862.3 1009.3,864.9 1012.8,866.9 C1016.3,868.9 1021.5,872.1 1026.7,873.8 C1031.9,875.6 1038.2,877.0 1044.0,877.3 C1049.8,877.6 1056.1,876.1 1061.3,875.6 C1066.5,875.0 1071.1,873.8 1075.2,873.8 C1079.2,873.8 1081.5,874.4 1085.6,875.6 C1089.6,876.7 1094.8,879.0 1099.4,880.8 C1104.1,882.5 1108.7,884.8 1113.3,886.0 C1117.9,887.1 1121.4,886.5 1127.2,887.7 C1133.0,888.9 1141.6,891.2 1148.0,892.9 C1154.3,894.6 1159.5,896.4 1165.3,898.1 C1171.1,899.8 1176.9,901.3 1182.6,903.3 C1188.4,905.3 1194.2,908.2 1200.0,910.2 C1205.7,912.2 1211.5,913.7 1217.3,915.4 C1223.1,917.2 1228.9,918.6 1234.6,920.6 C1240.4,922.6 1246.2,925.5 1252.0,927.6 C1257.7,929.6 1263.5,931.3 1269.3,932.8 C1275.1,934.2 1280.8,935.1 1286.6,936.2 C1292.4,937.4 1298.2,938.5 1304.0,939.7 C1309.7,940.8 1315.5,942.0 1321.3,943.2 C1327.1,944.3 1332.8,945.5 1338.6,946.6 C1344.4,947.8 1350.2,949.2 1355.9,950.1 C1361.7,951.0 1367.9,951.0 1373.3,951.8 C1378.6,952.7 1385.7,954.7 1388.2,955.3" stroke="#9ACD32" fill="none" stroke-width="3.2" stroke-linejoin="round"/>
<path d="M992.0,662.4 C992.9,659.5 995.2,648.6 997.2,645.1 C999.2,641.5 1002.1,640.3 1004.1,640.9 C1006.1,641.5 1007.3,642.1 1009.3,648.5 C1011.3,655.0 1013.7,668.2 1016.3,679.7 C1018.9,691.3 1022.1,707.7 1024.9,717.9 C1027.7,728.0 1030.6,737.2 1032.9,740.4 C1035.2,743.6 1036.4,743.0 1038.8,736.9 C1041.2,730.8 1044.3,717.0 1047.5,704.0 C1050.6,691.0 1054.7,671.6 1057.9,658.9 C1061.0,646.2 1064.2,634.1 1066.5,627.7 C1068.8,621.4 1070.0,621.1 1071.7,620.8 C1073.4,620.5 1074.6,620.8 1076.9,626.0 C1079.2,631.2 1082.4,641.9 1085.6,652.0 C1088.8,662.1 1092.5,675.7 1096.0,686.7 C1099.4,697.6 1102.9,707.5 1106.4,717.9 C1109.8,728.2 1112.7,738.6 1116.8,749.0 C1120.8,759.4 1125.4,770.4 1130.6,780.2 C1135.8,790.1 1142.2,799.9 1148.0,808.0 C1153.7,816.1 1159.5,821.8 1165.3,828.8 C1171.1,835.7 1176.9,843.2 1182.6,849.6 C1188.4,855.9 1194.2,861.7 1200.0,866.9 C1205.7,872.1 1211.5,876.7 1217.3,880.8 C1223.1,884.8 1228.9,887.1 1234.6,891.2 C1240.4,895.2 1246.2,901.6 1252.0,905.0 C1257.7,908.5 1263.5,910.2 1269.3,912.0 C1275.1,913.7 1280.8,914.6 1286.6,915.4 C1292.4,916.3 1298.2,916.6 1304.0,917.2 C1309.7,917.7 1315.5,918.6 1321.3,918.9 C1327.1,919.2 1332.8,918.3 1338.6,918.9 C1344.4,919.5 1350.2,920.9 1355.9,922.4 C1361.7,923.8 1367.9,926.1 1373.3,927.6 C1378.6,929.0 1385.7,930.4 1388.2,931.0 L1388.2,948.4 C1385.7,947.8 1378.6,946.0 1373.3,944.9 C1367.9,943.7 1361.7,942.6 1355.9,941.4 C1350.2,940.3 1344.4,939.1 1338.6,938.0 C1332.8,936.8 1327.1,935.6 1321.3,934.5 C1315.5,933.3 1309.7,932.5 1304.0,931.0 C1298.2,929.6 1292.4,927.6 1286.6,925.8 C1280.8,924.1 1275.1,922.6 1269.3,920.6 C1263.5,918.6 1257.7,916.3 1252.0,913.7 C1246.2,911.1 1240.4,907.6 1234.6,905.0 C1228.9,902.4 1223.1,900.7 1217.3,898.1 C1211.5,895.5 1205.7,892.9 1200.0,889.4 C1194.2,886.0 1187.8,880.5 1182.6,877.3 C1177.4,874.1 1173.4,872.7 1168.8,870.4 C1164.1,868.1 1159.5,865.7 1154.9,863.4 C1150.3,861.1 1145.7,860.0 1141.0,856.5 C1136.4,853.0 1131.8,848.4 1127.2,842.6 C1122.6,836.9 1117.4,828.2 1113.3,821.8 C1109.3,815.5 1106.4,810.3 1102.9,804.5 C1099.4,798.7 1096.0,790.9 1092.5,787.2 C1089.0,783.4 1085.6,780.8 1082.1,782.0 C1078.6,783.1 1075.8,789.8 1071.7,794.1 C1067.7,798.4 1062.5,804.5 1057.9,808.0 C1053.2,811.4 1048.0,813.2 1044.0,814.9 C1039.9,816.6 1037.1,817.2 1033.6,818.4 C1030.1,819.5 1026.7,822.4 1023.2,821.8 C1019.7,821.3 1015.7,817.2 1012.8,814.9 C1009.9,812.6 1008.2,808.5 1005.9,808.0 C1003.5,807.4 1001.2,809.1 998.9,811.4 C996.6,813.7 993.1,820.1 992.0,821.8 Z" fill="#20B2AA" fill-opacity="0.3" stroke="none"/>
<path d="M992.0,745.6 C993.1,743.6 996.9,736.8 998.9,733.4 C1000.9,730.1 1002.7,726.6 1004.1,725.5 C1005.6,724.3 1006.1,724.3 1007.6,726.5 C1009.0,728.7 1010.8,733.2 1012.8,738.6 C1014.8,744.1 1017.4,753.7 1019.7,759.4 C1022.0,765.2 1024.5,770.1 1026.7,773.3 C1028.9,776.5 1030.6,778.8 1032.9,778.5 C1035.2,778.2 1037.5,775.9 1040.5,771.6 C1043.5,767.2 1047.5,759.2 1050.9,752.5 C1054.4,745.9 1058.1,738.4 1061.3,731.7 C1064.5,725.1 1067.4,716.6 1070.0,712.7 C1072.6,708.7 1074.9,708.4 1076.9,708.1 C1078.9,707.9 1080.1,708.1 1082.1,710.9 C1084.1,713.7 1086.2,718.4 1089.0,724.8 C1091.9,731.1 1096.0,741.0 1099.4,749.0 C1102.9,757.1 1106.4,765.2 1109.8,773.3 C1113.3,781.4 1116.2,790.1 1120.2,797.6 C1124.3,805.1 1129.5,812.0 1134.1,818.4 C1138.7,824.7 1142.8,830.5 1148.0,835.7 C1153.2,840.9 1159.5,844.4 1165.3,849.6 C1171.1,854.8 1176.9,861.7 1182.6,866.9 C1188.4,872.1 1194.2,876.7 1200.0,880.8 C1205.7,884.8 1211.5,888.0 1217.3,891.2 C1223.1,894.3 1228.9,896.9 1234.6,899.8 C1240.4,902.7 1246.2,905.9 1252.0,908.5 C1257.7,911.1 1263.5,913.4 1269.3,915.4 C1275.1,917.4 1280.8,919.2 1286.6,920.6 C1292.4,922.1 1298.2,923.1 1304.0,924.1 C1309.7,925.1 1315.5,925.6 1321.3,926.5 C1327.1,927.4 1332.8,928.2 1338.6,929.3 C1344.4,930.3 1350.2,931.6 1355.9,932.8 C1361.7,933.9 1367.9,935.1 1373.3,936.2 C1378.6,937.4 1385.7,939.1 1388.2,939.7" stroke="#20B2AA" fill="none" stroke-width="3.2" stroke-linejoin="round"/>
<path d="M992.0,851.0 C993.1,849.5 996.6,844.3 998.9,842.3 C1001.2,840.3 1003.8,838.0 1005.9,838.8 C1007.9,839.7 1009.3,844.3 1011.1,847.5 C1012.8,850.7 1013.7,854.4 1016.3,857.9 C1018.9,861.4 1022.6,865.4 1026.7,868.3 C1030.7,871.2 1035.9,873.2 1040.5,875.2 C1045.1,877.2 1049.2,879.0 1054.4,880.4 C1059.6,881.9 1066.5,882.4 1071.7,883.9 C1076.9,885.3 1081.0,887.6 1085.6,889.1 C1090.2,890.5 1094.8,891.1 1099.4,892.5 C1104.1,894.0 1108.7,896.3 1113.3,897.7 C1117.9,899.2 1121.4,900.1 1127.2,901.2 C1133.0,902.4 1141.6,903.2 1148.0,904.7 C1154.3,906.1 1159.5,908.4 1165.3,909.9 C1171.1,911.3 1176.9,912.2 1182.6,913.3 C1188.4,914.5 1194.2,915.8 1200.0,916.8 C1205.7,917.9 1211.5,918.7 1217.3,919.6 C1223.1,920.5 1228.9,921.0 1234.6,922.0 C1240.4,923.0 1246.2,924.3 1252.0,925.5 C1257.7,926.6 1263.5,927.8 1269.3,928.9 C1275.1,930.1 1280.8,931.3 1286.6,932.4 C1292.4,933.6 1298.2,935.0 1304.0,935.9 C1309.7,936.7 1315.5,937.0 1321.3,937.6 C1327.1,938.2 1332.8,938.5 1338.6,939.3 C1344.4,940.2 1350.2,941.7 1355.9,942.8 C1361.7,944.0 1367.9,944.8 1373.3,946.3 C1378.6,947.7 1385.7,950.6 1388.2,951.5 L1388.2,962.6 C1385.7,961.7 1378.6,958.8 1373.3,957.4 C1367.9,955.9 1361.7,955.1 1355.9,953.9 C1350.2,952.7 1344.4,951.3 1338.6,950.4 C1332.8,949.6 1327.1,949.3 1321.3,948.7 C1315.5,948.1 1309.7,947.8 1304.0,947.0 C1298.2,946.1 1292.4,944.7 1286.6,943.5 C1280.8,942.3 1275.1,941.2 1269.3,940.0 C1263.5,938.9 1257.7,937.7 1252.0,936.6 C1246.2,935.4 1240.4,934.1 1234.6,933.1 C1228.9,932.1 1223.1,931.5 1217.3,930.7 C1211.5,929.8 1205.7,928.9 1200.0,927.9 C1194.2,926.9 1188.4,925.6 1182.6,924.4 C1176.9,923.3 1171.1,922.4 1165.3,921.0 C1159.5,919.5 1154.3,917.2 1148.0,915.8 C1141.6,914.3 1133.0,913.5 1127.2,912.3 C1121.4,911.1 1117.9,910.3 1113.3,908.8 C1108.7,907.4 1104.1,905.1 1099.4,903.6 C1094.8,902.2 1090.2,901.6 1085.6,900.2 C1081.0,898.7 1076.9,896.4 1071.7,895.0 C1066.5,893.5 1059.6,893.0 1054.4,891.5 C1049.2,890.1 1045.1,888.3 1040.5,886.3 C1035.9,884.3 1030.7,882.3 1026.7,879.4 C1022.6,876.5 1018.9,872.4 1016.3,869.0 C1013.7,865.5 1012.8,861.8 1011.1,858.6 C1009.3,855.4 1007.9,850.8 1005.9,849.9 C1003.8,849.0 1001.2,851.4 998.9,853.4 C996.6,855.4 993.1,860.6 992.0,862.0 Z" fill="#1E90FF" fill-opacity="0.3" stroke="none"/>
<path d="M992.0,856.5 C993.1,855.1 996.6,849.9 998.9,847.8 C1001.2,845.8 1003.8,843.5 1005.9,844.4 C1007.9,845.2 1009.3,849.9 1011.1,853.0 C1012.8,856.2 1013.7,860.0 1016.3,863.4 C1018.9,866.9 1022.6,870.9 1026.7,873.8 C1030.7,876.7 1035.9,878.7 1040.5,880.8 C1045.1,882.8 1049.2,884.5 1054.4,886.0 C1059.6,887.4 1066.5,888.0 1071.7,889.4 C1076.9,890.9 1081.0,893.2 1085.6,894.6 C1090.2,896.1 1094.8,896.6 1099.4,898.1 C1104.1,899.5 1108.7,901.8 1113.3,903.3 C1117.9,904.7 1121.4,905.6 1127.2,906.8 C1133.0,907.9 1141.6,908.8 1148.0,910.2 C1154.3,911.7 1159.5,914.0 1165.3,915.4 C1171.1,916.9 1176.9,917.7 1182.6,918.9 C1188.4,920.0 1194.2,921.3 1200.0,922.4 C1205.7,923.4 1211.5,924.3 1217.3,925.1 C1223.1,926.0 1228.9,926.6 1234.6,927.6 C1240.4,928.5 1246.2,929.9 1252.0,931.0 C1257.7,932.2 1263.5,933.3 1269.3,934.5 C1275.1,935.6 1280.8,936.8 1286.6,938.0 C1292.4,939.1 1298.2,940.6 1304.0,941.4 C1309.7,942.3 1315.5,942.6 1321.3,943.2 C1327.1,943.7 1332.8,944.0 1338.6,944.9 C1344.4,945.8 1350.2,947.2 1355.9,948.4 C1361.7,949.5 1367.9,950.4 1373.3,951.8 C1378.6,953.3 1385.7,956.2 1388.2,957.0" stroke="#1E90FF" fill="none" stroke-width="3.2" stroke-linejoin="round"/>
<path d="M992.0,830.5 C994.0,829.1 1000.7,822.4 1004.1,821.8 C1007.6,821.3 1009.0,825.0 1012.8,827.0 C1016.5,829.1 1022.6,832.5 1026.7,834.0 C1030.7,835.4 1033.0,837.7 1037.1,835.7 C1041.1,833.7 1046.3,827.0 1050.9,821.8 C1055.5,816.6 1060.7,809.1 1064.8,804.5 C1068.8,799.9 1071.7,795.6 1075.2,794.1 C1078.6,792.7 1082.1,793.5 1085.6,795.8 C1089.0,798.2 1092.5,803.6 1096.0,808.0 C1099.4,812.3 1102.3,818.4 1106.4,821.8 C1110.4,825.3 1115.6,826.5 1120.2,828.8 C1124.9,831.1 1129.5,833.4 1134.1,835.7 C1138.7,838.0 1142.8,839.2 1148.0,842.6 C1153.2,846.1 1159.5,851.9 1165.3,856.5 C1171.1,861.1 1176.9,865.2 1182.6,870.4 C1188.4,875.6 1194.2,882.8 1200.0,887.7 C1205.7,892.6 1211.5,896.4 1217.3,899.8 C1223.1,903.3 1228.9,905.6 1234.6,908.5 C1240.4,911.4 1246.2,914.6 1252.0,917.2 C1257.7,919.8 1263.5,922.1 1269.3,924.1 C1275.1,926.1 1280.8,927.8 1286.6,929.3 C1292.4,930.7 1298.2,931.6 1304.0,932.8 C1309.7,933.9 1315.5,935.1 1321.3,936.2 C1327.1,937.4 1332.8,938.5 1338.6,939.7 C1344.4,940.8 1350.2,942.0 1355.9,943.2 C1361.7,944.3 1367.9,945.6 1373.3,946.6 C1378.6,947.7 1385.7,948.9 1388.2,949.4 L1388.2,963.3 C1385.7,962.8 1378.6,961.5 1373.3,960.5 C1367.9,959.4 1361.7,958.2 1355.9,957.0 C1350.2,955.9 1344.4,954.7 1338.6,953.6 C1332.8,952.4 1327.1,951.2 1321.3,950.1 C1315.5,948.9 1309.7,947.8 1304.0,946.6 C1298.2,945.5 1292.4,944.3 1286.6,943.2 C1280.8,942.0 1275.1,941.4 1269.3,939.7 C1263.5,938.0 1257.7,935.4 1252.0,932.8 C1246.2,930.2 1240.4,927.0 1234.6,924.1 C1228.9,921.2 1223.1,918.6 1217.3,915.4 C1211.5,912.2 1205.7,909.1 1200.0,905.0 C1194.2,901.0 1188.4,895.5 1182.6,891.2 C1176.9,886.8 1171.1,882.8 1165.3,879.0 C1159.5,875.3 1153.2,871.2 1148.0,868.6 C1142.8,866.0 1138.2,865.2 1134.1,863.4 C1130.1,861.7 1127.2,859.7 1123.7,858.2 C1120.2,856.8 1116.8,856.2 1113.3,854.8 C1109.8,853.3 1106.4,851.9 1102.9,849.6 C1099.4,847.3 1096.0,843.2 1092.5,840.9 C1089.0,838.6 1085.6,836.6 1082.1,835.7 C1078.6,834.8 1075.8,834.5 1071.7,835.7 C1067.7,836.9 1062.5,839.7 1057.9,842.6 C1053.2,845.5 1048.0,850.7 1044.0,853.0 C1039.9,855.3 1037.1,856.2 1033.6,856.5 C1030.1,856.8 1026.7,855.9 1023.2,854.8 C1019.7,853.6 1015.7,851.6 1012.8,849.6 C1009.9,847.5 1008.2,843.2 1005.9,842.6 C1003.5,842.1 1001.2,844.4 998.9,846.1 C996.6,847.8 993.1,851.9 992.0,853.0 Z" fill="#BA55D3" fill-opacity="0.3" stroke="none"/>
<path d="M992.0,842.6 C993.1,841.5 996.6,837.4 998.9,835.7 C1001.2,834.0 1003.5,831.7 1005.9,832.2 C1008.2,832.8 1009.9,837.1 1012.8,839.2 C1015.7,841.2 1019.7,843.2 1023.2,844.4 C1026.7,845.5 1030.1,846.4 1033.6,846.1 C1037.1,845.8 1039.9,844.9 1044.0,842.6 C1048.0,840.3 1053.2,835.1 1057.9,832.2 C1062.5,829.3 1067.7,826.5 1071.7,825.3 C1075.8,824.1 1078.6,824.4 1082.1,825.3 C1085.6,826.2 1089.0,828.2 1092.5,830.5 C1096.0,832.8 1099.4,836.9 1102.9,839.2 C1106.4,841.5 1109.8,842.9 1113.3,844.4 C1116.8,845.8 1120.2,846.4 1123.7,847.8 C1127.2,849.3 1130.1,851.3 1134.1,853.0 C1138.2,854.8 1142.8,855.6 1148.0,858.2 C1153.2,860.8 1159.5,864.9 1165.3,868.6 C1171.1,872.4 1176.9,876.4 1182.6,880.8 C1188.4,885.1 1194.2,890.6 1200.0,894.6 C1205.7,898.7 1211.5,901.8 1217.3,905.0 C1223.1,908.2 1228.9,910.8 1234.6,913.7 C1240.4,916.6 1246.2,919.8 1252.0,922.4 C1257.7,925.0 1263.5,927.6 1269.3,929.3 C1275.1,931.0 1280.8,931.6 1286.6,932.8 C1292.4,933.9 1298.2,935.1 1304.0,936.2 C1309.7,937.4 1315.5,938.5 1321.3,939.7 C1327.1,940.8 1332.8,942.0 1338.6,943.2 C1344.4,944.3 1350.2,945.5 1355.9,946.6 C1361.7,947.8 1367.9,949.0 1373.3,950.1 C1378.6,951.1 1385.7,952.4 1388.2,952.9" stroke="#BA55D3" fill="none" stroke-width="3.2" stroke-linejoin="round"/>
<g>
</g></g>
<rect x="992" y="618" width="396.2" height="360.9" fill="none" stroke="#707070" stroke-width="1.1"/>
<line x1="992.0" y1="978.9" x2="992.0" y2="973.9" stroke="#707070"/>
<line x1="992.0" y1="618" x2="992.0" y2="623" stroke="#707070"/>
<text x="992.0" y="1011.0" font-size="24" text-anchor="middle" fill="#262626">0</text>
<line x1="1091.0" y1="978.9" x2="1091.0" y2="973.9" stroke="#707070"/>
<line x1="1091.0" y1="618" x2="1091.0" y2="623" stroke="#707070"/>
<text x="1091.0" y="1011.0" font-size="24" text-anchor="middle" fill="#262626">10</text>
<line x1="1190.1" y1="978.9" x2="1190.1" y2="973.9" stroke="#707070"/>
<line x1="1190.1" y1="618" x2="1190.1" y2="623" stroke="#707070"/>
<text x="1190.1" y="1011.0" font-size="24" text-anchor="middle" fill="#262626">20</text>
<line x1="1289.2" y1="978.9" x2="1289.2" y2="973.9" stroke="#707070"/>
<line x1="1289.2" y1="618" x2="1289.2" y2="623" stroke="#707070"/>
<text x="1289.2" y="1011.0" font-size="24" text-anchor="middle" fill="#262626">30</text>
<line x1="1388.2" y1="978.9" x2="1388.2" y2="973.9" stroke="#707070"/>
<line x1="1388.2" y1="618" x2="1388.2" y2="623" stroke="#707070"/>
<text x="1388.2" y="1011.0" font-size="24" text-anchor="middle" fill="#262626">40</text>
<text x="1189.6" y="1042.0" font-size="24.9" text-anchor="middle" fill="#262626" textLength="174.1" lengthAdjust="spacingAndGlyphs">Frequency (Hz)</text>
<text x="981.5" y="800.5" font-size="25" text-anchor="middle" fill="#262626" transform="rotate(-90 981.5 800.5)">mean PSD (a.u.)</text>
<line x1="1269.3" y1="642.6" x2="1316.1" y2="642.6" stroke="#F08080" stroke-width="3.5"/>
<text x="1321.8" y="648.1" font-size="15.3" textLength="50.0" lengthAdjust="spacingAndGlyphs">State 1</text>
<line x1="1269.3" y1="662.4" x2="1316.1" y2="662.4" stroke="#DAA520" stroke-width="3.5"/>
<text x="1321.8" y="667.9" font-size="15.3" textLength="50.0" lengthAdjust="spacingAndGlyphs">State 2</text>
<line x1="1269.3" y1="682.1" x2="1316.1" y2="682.1" stroke="#9ACD32" stroke-width="3.5"/>
<text x="1321.8" y="687.6" font-size="15.3" textLength="50.0" lengthAdjust="spacingAndGlyphs">State 3</text>
<line x1="1269.3" y1="701.9" x2="1316.1" y2="701.9" stroke="#20B2AA" stroke-width="3.5"/>
<text x="1321.8" y="707.4" font-size="15.3" textLength="50.0" lengthAdjust="spacingAndGlyphs">State 4</text>
<line x1="1269.3" y1="721.3" x2="1316.1" y2="721.3" stroke="#1E90FF" stroke-width="3.5"/>
<text x="1321.8" y="726.8" font-size="15.3" textLength="50.0" lengthAdjust="spacingAndGlyphs">State 5</text>
<line x1="1269.3" y1="740.4" x2="1316.1" y2="740.4" stroke="#BA55D3" stroke-width="3.5"/>
<text x="1321.8" y="745.9" font-size="15.3" textLength="50.0" lengthAdjust="spacingAndGlyphs">State 6</text>
<text x="1762.2" y="514.5" font-size="30" font-weight="bold" text-anchor="middle" textLength="254.7" lengthAdjust="spacingAndGlyphs">Coherence - COH</text>
<text x="1759.0" y="569.5" font-size="25.5" text-anchor="middle" textLength="479.6" lengthAdjust="spacingAndGlyphs">Plot statewise mean COH across regions</text>
<text x="1759.0" y="596.3" font-size="21.5" text-anchor="middle" textLength="289.1" lengthAdjust="spacingAndGlyphs">Mean and std across subjects</text>
<clipPath id="ccoh"><rect x="1570.3" y="619.1" width="396.8" height="360.4"/></clipPath>
<g clip-path="url(#ccoh)">
<path d="M1570.3,698.8 C1572.3,699.7 1578.6,698.5 1582.4,704.0 C1586.1,709.5 1589.3,720.2 1592.8,731.7 C1596.3,743.3 1599.7,760.6 1603.2,773.3 C1606.7,786.0 1610.1,799.3 1613.6,808.0 C1617.1,816.6 1619.9,824.1 1624.0,825.3 C1628.0,826.5 1633.2,817.8 1637.9,814.9 C1642.5,812.0 1647.7,808.5 1651.7,808.0 C1655.8,807.4 1658.6,808.0 1662.1,811.4 C1665.6,814.9 1668.5,820.1 1672.5,828.8 C1676.6,837.4 1681.8,855.3 1686.4,863.4 C1691.0,871.5 1694.5,874.4 1700.2,877.3 C1706.0,880.2 1714.1,880.8 1721.0,880.8 C1728.0,880.8 1734.9,877.9 1741.8,877.3 C1748.8,876.7 1755.7,877.3 1762.6,877.3 C1769.6,877.3 1777.7,881.9 1783.4,877.3 C1789.2,872.7 1792.1,857.7 1797.3,849.6 C1802.5,841.5 1810.0,830.5 1814.6,828.8 C1819.2,827.0 1821.0,833.4 1825.0,839.2 C1829.1,844.9 1832.0,859.4 1838.9,863.4 C1845.8,867.5 1856.2,865.7 1866.6,863.4 C1877.0,861.1 1889.7,856.5 1901.3,849.6 C1912.8,842.6 1925.0,832.2 1935.9,821.8 C1946.9,811.4 1961.9,793.0 1967.1,787.2 L1967.1,877.3 C1963.1,876.1 1951.0,870.9 1942.9,870.4 C1934.8,869.8 1928.4,872.7 1918.6,873.8 C1908.8,875.0 1895.5,875.0 1884.0,877.3 C1872.4,879.6 1858.0,886.5 1849.3,887.7 C1840.6,888.9 1837.7,885.4 1832.0,884.2 C1826.2,883.1 1820.4,879.0 1814.6,880.8 C1808.9,882.5 1802.5,890.6 1797.3,894.6 C1792.1,898.7 1788.1,902.7 1783.4,905.0 C1778.8,907.3 1775.3,908.5 1769.6,908.5 C1763.8,908.5 1755.7,904.7 1748.8,905.0 C1741.8,905.3 1734.3,908.5 1728.0,910.2 C1721.6,912.0 1716.4,914.8 1710.6,915.4 C1704.9,916.0 1699.1,914.3 1693.3,913.7 C1687.5,913.1 1682.9,913.4 1676.0,912.0 C1669.0,910.5 1659.2,907.3 1651.7,905.0 C1644.2,902.7 1636.7,901.0 1630.9,898.1 C1625.1,895.2 1621.7,893.5 1617.1,887.7 C1612.4,881.9 1607.8,873.8 1603.2,863.4 C1598.6,853.0 1594.8,834.0 1589.3,825.3 C1583.8,816.6 1573.4,813.7 1570.3,811.4 Z" fill="#F08080" fill-opacity="0.3" stroke="none"/>
<path d="M1570.3,761.2 C1571.7,761.8 1575.7,762.0 1578.9,764.6 C1582.1,767.2 1585.9,770.1 1589.3,776.8 C1592.8,783.4 1596.3,794.1 1599.7,804.5 C1603.2,814.9 1606.7,829.9 1610.1,839.2 C1613.6,848.4 1616.5,854.8 1620.5,860.0 C1624.6,865.2 1629.8,867.5 1634.4,870.4 C1639.0,873.3 1643.6,875.0 1648.2,877.3 C1652.9,879.6 1657.5,881.9 1662.1,884.2 C1666.7,886.5 1671.4,889.4 1676.0,891.2 C1680.6,892.9 1685.2,894.0 1689.8,894.6 C1694.5,895.2 1699.1,894.6 1703.7,894.6 C1708.3,894.6 1712.4,894.9 1717.6,894.6 C1722.8,894.3 1729.7,893.2 1734.9,892.9 C1740.1,892.6 1744.1,892.6 1748.8,892.9 C1753.4,893.2 1758.0,894.3 1762.6,894.6 C1767.3,894.9 1771.9,895.8 1776.5,894.6 C1781.1,893.5 1786.3,891.7 1790.4,887.7 C1794.4,883.7 1797.3,875.6 1800.8,870.4 C1804.2,865.2 1807.7,859.4 1811.2,856.5 C1814.6,853.6 1818.1,852.7 1821.6,853.0 C1825.0,853.3 1828.5,855.3 1832.0,858.2 C1835.4,861.1 1836.6,867.2 1842.4,870.4 C1848.1,873.5 1856.8,877.3 1866.6,877.3 C1876.4,877.3 1889.7,876.1 1901.3,870.4 C1912.8,864.6 1925.0,854.8 1935.9,842.6 C1946.9,830.5 1961.9,805.1 1967.1,797.6" stroke="#F08080" fill="none" stroke-width="3.2" stroke-linejoin="round"/>
<path d="M1570.3,875.6 C1572.3,875.9 1578.1,876.4 1582.4,877.3 C1586.7,878.2 1591.6,879.9 1596.3,880.8 C1600.9,881.6 1605.5,883.7 1610.1,882.5 C1614.7,881.3 1619.9,878.2 1624.0,873.8 C1628.0,869.5 1630.9,861.7 1634.4,856.5 C1637.9,851.3 1641.3,846.1 1644.8,842.6 C1648.2,839.2 1652.3,837.1 1655.2,835.7 C1658.1,834.3 1659.2,833.4 1662.1,834.0 C1665.0,834.5 1669.0,836.0 1672.5,839.2 C1676.0,842.3 1679.4,848.4 1682.9,853.0 C1686.4,857.7 1689.3,863.4 1693.3,866.9 C1697.4,870.4 1702.6,872.4 1707.2,873.8 C1711.8,875.3 1715.8,876.1 1721.0,875.6 C1726.2,875.0 1732.6,871.8 1738.4,870.4 C1744.1,868.9 1750.5,866.3 1755.7,866.9 C1760.9,867.5 1764.9,872.1 1769.6,873.8 C1774.2,875.6 1778.8,877.9 1783.4,877.3 C1788.1,876.7 1792.7,873.3 1797.3,870.4 C1801.9,867.5 1807.1,862.0 1811.2,860.0 C1815.2,857.9 1818.1,857.7 1821.6,858.2 C1825.0,858.8 1827.9,861.4 1832.0,863.4 C1836.0,865.5 1840.0,869.2 1845.8,870.4 C1851.6,871.5 1857.4,871.5 1866.6,870.4 C1875.9,869.2 1889.7,866.3 1901.3,863.4 C1912.8,860.5 1925.0,855.9 1935.9,853.0 C1946.9,850.1 1961.9,847.3 1967.1,846.1 L1967.1,866.9 C1961.9,868.1 1946.9,870.9 1935.9,873.8 C1925.0,876.7 1912.8,881.3 1901.3,884.2 C1889.7,887.1 1875.9,890.0 1866.6,891.2 C1857.4,892.3 1851.6,892.3 1845.8,891.2 C1840.0,890.0 1836.0,886.3 1832.0,884.2 C1827.9,882.2 1825.0,879.6 1821.6,879.0 C1818.1,878.5 1815.2,878.7 1811.2,880.8 C1807.1,882.8 1801.9,888.3 1797.3,891.2 C1792.7,894.0 1788.1,897.5 1783.4,898.1 C1778.8,898.7 1774.2,896.4 1769.6,894.6 C1764.9,892.9 1760.9,888.3 1755.7,887.7 C1750.5,887.1 1744.1,889.7 1738.4,891.2 C1732.6,892.6 1726.2,895.8 1721.0,896.4 C1715.8,896.9 1711.8,896.1 1707.2,894.6 C1702.6,893.2 1697.4,891.2 1693.3,887.7 C1689.3,884.2 1686.4,878.5 1682.9,873.8 C1679.4,869.2 1676.0,863.1 1672.5,860.0 C1669.0,856.8 1665.0,855.3 1662.1,854.8 C1659.2,854.2 1658.1,855.1 1655.2,856.5 C1652.3,857.9 1648.2,860.0 1644.8,863.4 C1641.3,866.9 1637.9,872.1 1634.4,877.3 C1630.9,882.5 1628.0,890.3 1624.0,894.6 C1619.9,899.0 1614.7,902.1 1610.1,903.3 C1605.5,904.4 1600.9,902.4 1596.3,901.6 C1591.6,900.7 1586.7,899.0 1582.4,898.1 C1578.1,897.2 1572.3,896.6 1570.3,896.4 Z" fill="#DAA520" fill-opacity="0.3" stroke="none"/>
<path d="M1570.3,886.0 C1572.3,886.3 1578.1,886.8 1582.4,887.7 C1586.7,888.6 1591.6,890.3 1596.3,891.2 C1600.9,892.0 1605.5,894.0 1610.1,892.9 C1614.7,891.7 1619.9,888.6 1624.0,884.2 C1628.0,879.9 1630.9,872.1 1634.4,866.9 C1637.9,861.7 1641.3,856.5 1644.8,853.0 C1648.2,849.6 1652.3,847.5 1655.2,846.1 C1658.1,844.7 1659.2,843.8 1662.1,844.4 C1665.0,844.9 1669.0,846.4 1672.5,849.6 C1676.0,852.7 1679.4,858.8 1682.9,863.4 C1686.4,868.1 1689.3,873.8 1693.3,877.3 C1697.4,880.8 1702.6,882.8 1707.2,884.2 C1711.8,885.7 1715.8,886.5 1721.0,886.0 C1726.2,885.4 1732.6,882.2 1738.4,880.8 C1744.1,879.3 1750.5,876.7 1755.7,877.3 C1760.9,877.9 1764.9,882.5 1769.6,884.2 C1774.2,886.0 1778.8,888.3 1783.4,887.7 C1788.1,887.1 1792.7,883.7 1797.3,880.8 C1801.9,877.9 1807.1,872.4 1811.2,870.4 C1815.2,868.3 1818.1,868.1 1821.6,868.6 C1825.0,869.2 1827.9,871.8 1832.0,873.8 C1836.0,875.9 1840.0,879.6 1845.8,880.8 C1851.6,881.9 1857.4,881.9 1866.6,880.8 C1875.9,879.6 1889.7,876.7 1901.3,873.8 C1912.8,870.9 1925.0,866.3 1935.9,863.4 C1946.9,860.5 1961.9,857.7 1967.1,856.5" stroke="#DAA520" fill="none" stroke-width="3.2" stroke-linejoin="round"/>
<path d="M1570.3,875.6 C1572.3,876.1 1577.5,877.3 1582.4,879.0 C1587.3,880.8 1594.5,884.2 1599.7,886.0 C1604.9,887.7 1608.4,890.6 1613.6,889.4 C1618.8,888.3 1625.1,881.9 1630.9,879.0 C1636.7,876.1 1643.6,873.5 1648.2,872.1 C1652.9,870.7 1654.6,870.4 1658.6,870.4 C1662.7,870.4 1667.9,870.1 1672.5,872.1 C1677.1,874.1 1681.8,880.2 1686.4,882.5 C1691.0,884.8 1695.0,886.3 1700.2,886.0 C1705.4,885.7 1711.8,883.7 1717.6,880.8 C1723.4,877.9 1729.7,871.5 1734.9,868.6 C1740.1,865.7 1744.1,863.4 1748.8,863.4 C1753.4,863.4 1758.0,867.2 1762.6,868.6 C1767.3,870.1 1771.9,872.1 1776.5,872.1 C1781.1,872.1 1785.7,871.5 1790.4,868.6 C1795.0,865.7 1800.2,858.2 1804.2,854.8 C1808.3,851.3 1811.2,848.7 1814.6,847.8 C1818.1,847.0 1821.6,847.8 1825.0,849.6 C1828.5,851.3 1831.4,855.6 1835.4,858.2 C1839.5,860.8 1844.1,864.0 1849.3,865.2 C1854.5,866.3 1858.0,866.3 1866.6,865.2 C1875.3,864.0 1889.7,861.7 1901.3,858.2 C1912.8,854.8 1925.0,849.0 1935.9,844.4 C1946.9,839.7 1961.9,832.8 1967.1,830.5 L1967.1,847.8 C1961.9,850.1 1946.9,857.1 1935.9,861.7 C1925.0,866.3 1912.8,872.1 1901.3,875.6 C1889.7,879.0 1875.3,881.3 1866.6,882.5 C1858.0,883.7 1854.5,883.7 1849.3,882.5 C1844.1,881.3 1839.5,878.2 1835.4,875.6 C1831.4,873.0 1828.5,868.6 1825.0,866.9 C1821.6,865.2 1818.1,864.3 1814.6,865.2 C1811.2,866.0 1808.3,868.6 1804.2,872.1 C1800.2,875.6 1795.0,883.1 1790.4,886.0 C1785.7,888.9 1781.1,889.4 1776.5,889.4 C1771.9,889.4 1767.3,887.4 1762.6,886.0 C1758.0,884.5 1753.4,880.8 1748.8,880.8 C1744.1,880.8 1740.1,883.1 1734.9,886.0 C1729.7,888.9 1723.4,895.2 1717.6,898.1 C1711.8,901.0 1705.4,903.0 1700.2,903.3 C1695.0,903.6 1691.0,902.1 1686.4,899.8 C1681.8,897.5 1677.1,891.5 1672.5,889.4 C1667.9,887.4 1662.7,887.7 1658.6,887.7 C1654.6,887.7 1652.9,888.0 1648.2,889.4 C1643.6,890.9 1636.7,893.5 1630.9,896.4 C1625.1,899.2 1618.8,905.6 1613.6,906.8 C1608.4,907.9 1604.9,905.0 1599.7,903.3 C1594.5,901.6 1587.3,898.1 1582.4,896.4 C1577.5,894.6 1572.3,893.5 1570.3,892.9 Z" fill="#9ACD32" fill-opacity="0.3" stroke="none"/>
<path d="M1570.3,884.2 C1572.3,884.8 1577.5,886.0 1582.4,887.7 C1587.3,889.4 1594.5,892.9 1599.7,894.6 C1604.9,896.4 1608.4,899.2 1613.6,898.1 C1618.8,896.9 1625.1,890.6 1630.9,887.7 C1636.7,884.8 1643.6,882.2 1648.2,880.8 C1652.9,879.3 1654.6,879.0 1658.6,879.0 C1662.7,879.0 1667.9,878.7 1672.5,880.8 C1677.1,882.8 1681.8,888.9 1686.4,891.2 C1691.0,893.5 1695.0,894.9 1700.2,894.6 C1705.4,894.3 1711.8,892.3 1717.6,889.4 C1723.4,886.5 1729.7,880.2 1734.9,877.3 C1740.1,874.4 1744.1,872.1 1748.8,872.1 C1753.4,872.1 1758.0,875.9 1762.6,877.3 C1767.3,878.7 1771.9,880.8 1776.5,880.8 C1781.1,880.8 1785.7,880.2 1790.4,877.3 C1795.0,874.4 1800.2,866.9 1804.2,863.4 C1808.3,860.0 1811.2,857.4 1814.6,856.5 C1818.1,855.6 1821.6,856.5 1825.0,858.2 C1828.5,860.0 1831.4,864.3 1835.4,866.9 C1839.5,869.5 1844.1,872.7 1849.3,873.8 C1854.5,875.0 1858.0,875.0 1866.6,873.8 C1875.3,872.7 1889.7,870.4 1901.3,866.9 C1912.8,863.4 1925.0,857.7 1935.9,853.0 C1946.9,848.4 1961.9,841.5 1967.1,839.2" stroke="#9ACD32" fill="none" stroke-width="3.2" stroke-linejoin="round"/>
<path d="M1570.3,728.2 C1572.3,731.1 1578.1,734.6 1582.4,745.6 C1586.7,756.6 1591.9,782.6 1596.3,794.1 C1600.6,805.7 1604.3,814.9 1608.4,814.9 C1612.4,814.9 1616.2,803.4 1620.5,794.1 C1624.9,784.9 1629.8,771.0 1634.4,759.4 C1639.0,747.9 1644.2,732.9 1648.2,724.8 C1652.3,716.7 1655.2,710.9 1658.6,710.9 C1662.1,710.9 1665.0,716.1 1669.0,724.8 C1673.1,733.4 1678.3,750.2 1682.9,762.9 C1687.5,775.6 1692.2,791.8 1696.8,801.0 C1701.4,810.3 1705.4,814.9 1710.6,818.4 C1715.8,821.8 1722.2,821.5 1728.0,821.8 C1733.7,822.1 1739.5,818.9 1745.3,820.1 C1751.1,821.3 1756.9,825.0 1762.6,828.8 C1768.4,832.5 1774.8,840.9 1780.0,842.6 C1785.2,844.4 1789.8,844.9 1793.8,839.2 C1797.9,833.4 1800.8,814.9 1804.2,808.0 C1807.7,801.0 1811.2,799.0 1814.6,797.6 C1818.1,796.1 1821.6,795.8 1825.0,799.3 C1828.5,802.8 1832.5,814.0 1835.4,818.4 C1838.3,822.7 1837.2,825.3 1842.4,825.3 C1847.6,825.3 1856.8,821.8 1866.6,818.4 C1876.4,814.9 1890.9,810.9 1901.3,804.5 C1911.7,798.2 1920.9,791.2 1929.0,780.2 C1937.1,769.3 1943.5,757.7 1949.8,738.6 C1956.2,719.6 1964.3,678.0 1967.1,665.9 L1967.1,835.7 C1961.9,836.9 1946.9,839.2 1935.9,842.6 C1925.0,846.1 1912.8,853.0 1901.3,856.5 C1889.7,860.0 1877.0,862.9 1866.6,863.4 C1856.2,864.0 1845.2,861.1 1838.9,860.0 C1832.5,858.8 1832.5,857.1 1828.5,856.5 C1824.4,855.9 1819.8,855.3 1814.6,856.5 C1809.4,857.7 1802.5,862.3 1797.3,863.4 C1792.1,864.6 1789.2,864.3 1783.4,863.4 C1777.7,862.6 1769.0,859.4 1762.6,858.2 C1756.3,857.1 1752.2,857.4 1745.3,856.5 C1738.4,855.6 1728.5,855.3 1721.0,853.0 C1713.5,850.7 1706.0,846.7 1700.2,842.6 C1694.5,838.6 1691.6,834.5 1686.4,828.8 C1681.2,823.0 1674.2,812.0 1669.0,808.0 C1663.8,803.9 1659.8,799.9 1655.2,804.5 C1650.6,809.1 1646.5,827.6 1641.3,835.7 C1636.1,843.8 1629.2,849.6 1624.0,853.0 C1618.8,856.5 1614.2,857.1 1610.1,856.5 C1606.1,855.9 1604.3,855.3 1599.7,849.6 C1595.1,843.8 1587.3,828.2 1582.4,821.8 C1577.5,815.5 1572.3,813.2 1570.3,811.4 Z" fill="#20B2AA" fill-opacity="0.3" stroke="none"/>
<path d="M1570.3,769.2 C1571.7,770.4 1575.7,772.0 1578.9,776.8 C1582.1,781.5 1585.9,790.1 1589.3,797.6 C1592.8,805.1 1596.5,814.9 1599.7,821.8 C1602.9,828.8 1605.5,837.4 1608.4,839.2 C1611.3,840.9 1613.9,836.9 1617.1,832.2 C1620.2,827.6 1624.0,818.9 1627.5,811.4 C1630.9,803.9 1634.4,794.7 1637.9,787.2 C1641.3,779.7 1645.1,771.3 1648.2,766.4 C1651.4,761.5 1654.0,758.3 1656.9,757.7 C1659.8,757.1 1662.4,759.2 1665.6,762.9 C1668.8,766.7 1672.5,773.3 1676.0,780.2 C1679.4,787.2 1682.9,797.6 1686.4,804.5 C1689.8,811.4 1693.3,817.2 1696.8,821.8 C1700.2,826.5 1703.7,829.3 1707.2,832.2 C1710.6,835.1 1714.1,837.7 1717.6,839.2 C1721.0,840.6 1724.5,840.9 1728.0,840.9 C1731.4,840.9 1734.9,839.5 1738.4,839.2 C1741.8,838.9 1745.3,838.6 1748.8,839.2 C1752.2,839.7 1755.7,841.2 1759.2,842.6 C1762.6,844.1 1766.1,846.1 1769.6,847.8 C1773.0,849.6 1776.8,851.6 1780.0,853.0 C1783.1,854.5 1785.7,857.1 1788.6,856.5 C1791.5,855.9 1794.1,852.5 1797.3,849.6 C1800.5,846.7 1804.2,842.2 1807.7,839.2 C1811.2,836.2 1815.2,832.7 1818.1,831.5 C1821.0,830.4 1822.7,831.0 1825.0,832.2 C1827.3,833.5 1829.6,837.4 1832.0,839.2 C1834.3,840.9 1836.0,841.8 1838.9,842.6 C1841.8,843.5 1844.7,844.9 1849.3,844.4 C1853.9,843.8 1860.8,841.2 1866.6,839.2 C1872.4,837.1 1878.2,835.1 1884.0,832.2 C1889.7,829.3 1895.5,825.9 1901.3,821.8 C1907.1,817.8 1912.8,813.2 1918.6,808.0 C1924.4,802.8 1930.2,797.0 1935.9,790.6 C1941.7,784.3 1948.1,776.8 1953.3,769.8 C1958.5,762.9 1964.8,752.5 1967.1,749.0" stroke="#20B2AA" fill="none" stroke-width="3.2" stroke-linejoin="round"/>
<path d="M1570.3,825.3 C1573.4,828.2 1583.8,835.7 1589.3,842.6 C1594.8,849.6 1598.6,860.3 1603.2,866.9 C1607.8,873.5 1611.9,879.9 1617.1,882.5 C1622.3,885.1 1629.2,883.4 1634.4,882.5 C1639.6,881.6 1643.6,877.9 1648.2,877.3 C1652.9,876.7 1657.5,877.3 1662.1,879.0 C1666.7,880.8 1671.4,885.4 1676.0,887.7 C1680.6,890.0 1685.2,891.7 1689.8,892.9 C1694.5,894.0 1699.1,894.9 1703.7,894.6 C1708.3,894.3 1713.5,892.9 1717.6,891.2 C1721.6,889.4 1723.9,886.8 1728.0,884.2 C1732.0,881.6 1736.1,877.0 1741.8,875.6 C1747.6,874.1 1755.7,875.6 1762.6,875.6 C1769.6,875.6 1778.2,878.7 1783.4,875.6 C1788.6,872.4 1790.4,865.5 1793.8,856.5 C1797.3,847.5 1800.8,831.7 1804.2,821.8 C1807.7,812.0 1811.5,801.7 1814.6,797.6 C1817.8,793.4 1820.4,795.1 1823.3,796.9 C1826.2,798.6 1829.4,800.9 1832.0,808.0 C1834.6,815.0 1836.0,832.5 1838.9,839.2 C1841.8,845.8 1844.7,846.4 1849.3,847.8 C1853.9,849.3 1858.0,851.3 1866.6,847.8 C1875.3,844.4 1889.7,834.8 1901.3,827.0 C1912.8,819.2 1925.0,808.0 1935.9,801.0 C1946.9,794.1 1961.9,788.0 1967.1,785.4 L1967.1,849.6 C1961.9,849.3 1946.9,846.4 1935.9,847.8 C1925.0,849.3 1912.8,854.2 1901.3,858.2 C1889.7,862.3 1875.3,869.8 1866.6,872.1 C1858.0,874.4 1853.9,873.0 1849.3,872.1 C1844.7,871.2 1841.8,868.9 1838.9,866.9 C1836.0,864.9 1834.6,862.3 1832.0,860.0 C1829.4,857.7 1826.2,853.9 1823.3,853.0 C1820.4,852.2 1817.8,851.9 1814.6,854.8 C1811.5,857.7 1807.7,865.5 1804.2,870.4 C1800.8,875.3 1797.3,879.9 1793.8,884.2 C1790.4,888.6 1788.6,894.3 1783.4,896.4 C1778.2,898.4 1769.6,896.4 1762.6,896.4 C1755.7,896.4 1747.6,894.9 1741.8,896.4 C1736.1,897.8 1732.6,902.4 1728.0,905.0 C1723.4,907.6 1719.9,910.5 1714.1,912.0 C1708.3,913.4 1699.7,912.8 1693.3,913.7 C1687.0,914.6 1681.8,917.2 1676.0,917.2 C1670.2,917.2 1667.3,914.6 1658.6,913.7 C1650.0,912.8 1633.8,914.0 1624.0,912.0 C1614.2,909.9 1608.7,908.5 1599.7,901.6 C1590.8,894.6 1575.2,875.6 1570.3,870.4 Z" fill="#1E90FF" fill-opacity="0.3" stroke="none"/>
<path d="M1570.3,847.8 C1571.7,848.7 1575.7,849.9 1578.9,853.0 C1582.1,856.2 1585.9,862.3 1589.3,866.9 C1592.8,871.5 1596.3,876.7 1599.7,880.8 C1603.2,884.8 1606.7,888.9 1610.1,891.2 C1613.6,893.5 1616.5,894.3 1620.5,894.6 C1624.6,894.9 1629.8,893.8 1634.4,892.9 C1639.0,892.0 1643.6,889.7 1648.2,889.4 C1652.9,889.1 1657.5,889.7 1662.1,891.2 C1666.7,892.6 1671.4,896.1 1676.0,898.1 C1680.6,900.1 1685.2,902.3 1689.8,903.3 C1694.5,904.3 1699.1,904.6 1703.7,904.3 C1708.3,904.0 1713.5,903.2 1717.6,901.6 C1721.6,899.9 1723.9,897.2 1728.0,894.6 C1732.0,892.0 1737.8,888.0 1741.8,886.0 C1745.9,883.9 1748.8,882.5 1752.2,882.5 C1755.7,882.5 1759.2,884.8 1762.6,886.0 C1766.1,887.1 1769.6,889.4 1773.0,889.4 C1776.5,889.4 1780.0,889.1 1783.4,886.0 C1786.9,882.8 1790.4,876.4 1793.8,870.4 C1797.3,864.3 1800.8,855.6 1804.2,849.6 C1807.7,843.5 1811.5,836.9 1814.6,834.0 C1817.8,831.1 1820.4,831.4 1823.3,832.2 C1826.2,833.1 1829.4,835.7 1832.0,839.2 C1834.6,842.6 1836.0,849.6 1838.9,853.0 C1841.8,856.5 1844.7,858.8 1849.3,860.0 C1853.9,861.1 1860.8,861.1 1866.6,860.0 C1872.4,858.8 1878.2,855.9 1884.0,853.0 C1889.7,850.1 1895.5,845.8 1901.3,842.6 C1907.1,839.5 1912.8,836.6 1918.6,834.0 C1924.4,831.4 1930.2,828.8 1935.9,827.0 C1941.7,825.3 1948.1,824.4 1953.3,823.6 C1958.5,822.7 1964.8,822.1 1967.1,821.8" stroke="#1E90FF" fill="none" stroke-width="3.2" stroke-linejoin="round"/>
<path d="M1570.3,863.4 C1573.4,864.6 1583.8,868.3 1589.3,870.4 C1594.8,872.4 1599.1,875.0 1603.2,875.6 C1607.2,876.1 1610.1,878.2 1613.6,873.8 C1617.1,869.5 1619.9,858.2 1624.0,849.6 C1628.0,840.9 1633.2,828.2 1637.9,821.8 C1642.5,815.5 1647.7,812.9 1651.7,811.4 C1655.8,810.0 1658.6,810.9 1662.1,813.2 C1665.6,815.5 1668.5,819.5 1672.5,825.3 C1676.6,831.1 1681.8,842.9 1686.4,847.8 C1691.0,852.7 1695.6,853.3 1700.2,854.8 C1704.9,856.2 1709.5,856.8 1714.1,856.5 C1718.7,856.2 1723.4,854.3 1728.0,853.0 C1732.6,851.8 1737.8,849.7 1741.8,848.9 C1745.9,848.0 1748.8,847.4 1752.2,847.8 C1755.7,848.2 1758.6,849.9 1762.6,851.3 C1766.7,852.7 1771.9,855.3 1776.5,856.5 C1781.1,857.7 1785.7,859.7 1790.4,858.2 C1795.0,856.8 1799.6,850.9 1804.2,847.8 C1808.9,844.8 1814.6,841.0 1818.1,839.9 C1821.6,838.7 1822.1,839.3 1825.0,840.9 C1827.9,842.5 1832.5,846.7 1835.4,849.6 C1838.3,852.5 1838.9,856.5 1842.4,858.2 C1845.8,860.0 1852.2,859.7 1856.2,860.0 C1860.3,860.3 1859.1,862.0 1866.6,860.0 C1874.1,857.9 1889.7,851.9 1901.3,847.8 C1912.8,843.8 1925.0,839.2 1935.9,835.7 C1946.9,832.2 1961.9,828.5 1967.1,827.0 L1967.1,850.3 C1961.9,851.4 1946.9,854.0 1935.9,857.2 C1925.0,860.4 1912.8,865.3 1901.3,869.3 C1889.7,873.4 1874.1,879.4 1866.6,881.5 C1859.1,883.5 1860.3,881.7 1856.2,881.5 C1852.2,881.2 1845.8,881.5 1842.4,879.7 C1838.9,878.0 1838.3,873.9 1835.4,871.1 C1832.5,868.2 1827.9,864.0 1825.0,862.4 C1822.1,860.8 1821.6,860.2 1818.1,861.4 C1814.6,862.5 1808.9,866.3 1804.2,869.3 C1799.6,872.4 1795.0,878.3 1790.4,879.7 C1785.7,881.2 1781.1,879.1 1776.5,878.0 C1771.9,876.8 1766.7,874.2 1762.6,872.8 C1758.6,871.3 1755.7,869.7 1752.2,869.3 C1748.8,868.9 1745.9,869.5 1741.8,870.4 C1737.8,871.2 1732.6,873.3 1728.0,874.5 C1723.4,875.8 1718.7,877.7 1714.1,878.0 C1709.5,878.3 1704.9,877.4 1700.2,876.3 C1695.6,875.1 1691.0,874.2 1686.4,871.1 C1681.8,867.9 1676.6,860.7 1672.5,857.2 C1668.5,853.7 1665.6,851.4 1662.1,850.3 C1658.6,849.1 1655.8,848.5 1651.7,850.3 C1647.7,852.0 1642.5,855.5 1637.9,860.7 C1633.2,865.9 1628.0,875.7 1624.0,881.5 C1619.9,887.2 1617.1,892.4 1613.6,895.3 C1610.1,898.2 1607.2,899.1 1603.2,898.8 C1599.1,898.5 1593.4,895.3 1589.3,893.6 C1585.3,891.9 1582.1,889.5 1578.9,888.4 C1575.7,887.2 1571.7,886.9 1570.3,886.7 Z" fill="#BA55D3" fill-opacity="0.3" stroke="none"/>
<path d="M1570.3,875.6 C1571.7,875.9 1575.7,876.1 1578.9,877.3 C1582.1,878.5 1585.3,880.8 1589.3,882.5 C1593.4,884.2 1599.1,887.4 1603.2,887.7 C1607.2,888.0 1610.1,887.1 1613.6,884.2 C1617.1,881.3 1619.9,876.1 1624.0,870.4 C1628.0,864.6 1633.2,854.8 1637.9,849.6 C1642.5,844.4 1647.7,840.9 1651.7,839.2 C1655.8,837.4 1658.6,838.0 1662.1,839.2 C1665.6,840.3 1668.5,842.6 1672.5,846.1 C1676.6,849.6 1681.8,856.8 1686.4,860.0 C1691.0,863.1 1695.6,864.0 1700.2,865.2 C1704.9,866.3 1709.5,867.2 1714.1,866.9 C1718.7,866.6 1723.4,864.7 1728.0,863.4 C1732.6,862.2 1737.8,860.1 1741.8,859.3 C1745.9,858.4 1748.8,857.8 1752.2,858.2 C1755.7,858.6 1758.6,860.3 1762.6,861.7 C1766.7,863.1 1771.9,865.7 1776.5,866.9 C1781.1,868.1 1785.7,870.1 1790.4,868.6 C1795.0,867.2 1799.6,861.3 1804.2,858.2 C1808.9,855.2 1814.6,851.4 1818.1,850.3 C1821.6,849.1 1822.1,849.7 1825.0,851.3 C1827.9,852.9 1832.5,857.1 1835.4,860.0 C1838.3,862.9 1838.9,866.9 1842.4,868.6 C1845.8,870.4 1852.2,870.1 1856.2,870.4 C1860.3,870.7 1859.1,872.4 1866.6,870.4 C1874.1,868.3 1889.7,862.3 1901.3,858.2 C1912.8,854.2 1925.0,849.3 1935.9,846.1 C1946.9,842.9 1961.9,840.3 1967.1,839.2" stroke="#BA55D3" fill="none" stroke-width="3.2" stroke-linejoin="round"/>
<g>
</g></g>
<rect x="1570.3" y="619.1" width="396.8" height="360.4" fill="none" stroke="#707070" stroke-width="1.1"/>
<line x1="1570.3" y1="979.5" x2="1570.3" y2="974.5" stroke="#707070"/>
<line x1="1570.3" y1="619.1" x2="1570.3" y2="624.1" stroke="#707070"/>
<text x="1570.3" y="1011.0" font-size="24" text-anchor="middle" fill="#262626">0</text>
<line x1="1669.5" y1="979.5" x2="1669.5" y2="974.5" stroke="#707070"/>
<line x1="1669.5" y1="619.1" x2="1669.5" y2="624.1" stroke="#707070"/>
<text x="1669.5" y="1011.0" font-size="24" text-anchor="middle" fill="#262626">10</text>
<line x1="1768.7" y1="979.5" x2="1768.7" y2="974.5" stroke="#707070"/>
<line x1="1768.7" y1="619.1" x2="1768.7" y2="624.1" stroke="#707070"/>
<text x="1768.7" y="1011.0" font-size="24" text-anchor="middle" fill="#262626">20</text>
<line x1="1867.9" y1="979.5" x2="1867.9" y2="974.5" stroke="#707070"/>
<line x1="1867.9" y1="619.1" x2="1867.9" y2="624.1" stroke="#707070"/>
<text x="1867.9" y="1011.0" font-size="24" text-anchor="middle" fill="#262626">30</text>
<line x1="1967.1" y1="979.5" x2="1967.1" y2="974.5" stroke="#707070"/>
<line x1="1967.1" y1="619.1" x2="1967.1" y2="624.1" stroke="#707070"/>
<text x="1967.1" y="1011.0" font-size="24" text-anchor="middle" fill="#262626">40</text>
<text x="1768.2" y="1042.0" font-size="24.9" text-anchor="middle" fill="#262626" textLength="174.1" lengthAdjust="spacingAndGlyphs">Frequency (Hz)</text>
<text x="1558.0" y="801.3" font-size="25" text-anchor="middle" fill="#262626" transform="rotate(-90 1558.0 801.3)">mean COH (a.u.)</text>
<line x1="1847.6" y1="642.6" x2="1894.4" y2="642.6" stroke="#F08080" stroke-width="3.5"/>
<text x="1900.1" y="648.1" font-size="15.3" textLength="50.0" lengthAdjust="spacingAndGlyphs">State 1</text>
<line x1="1847.6" y1="662.4" x2="1894.4" y2="662.4" stroke="#DAA520" stroke-width="3.5"/>
<text x="1900.1" y="667.9" font-size="15.3" textLength="50.0" lengthAdjust="spacingAndGlyphs">State 2</text>
<line x1="1847.6" y1="682.1" x2="1894.4" y2="682.1" stroke="#9ACD32" stroke-width="3.5"/>
<text x="1900.1" y="687.6" font-size="15.3" textLength="50.0" lengthAdjust="spacingAndGlyphs">State 3</text>
<line x1="1847.6" y1="701.9" x2="1894.4" y2="701.9" stroke="#20B2AA" stroke-width="3.5"/>
<text x="1900.1" y="707.4" font-size="15.3" textLength="50.0" lengthAdjust="spacingAndGlyphs">State 4</text>
<line x1="1847.6" y1="721.3" x2="1894.4" y2="721.3" stroke="#1E90FF" stroke-width="3.5"/>
<text x="1900.1" y="726.8" font-size="15.3" textLength="50.0" lengthAdjust="spacingAndGlyphs">State 5</text>
<line x1="1847.6" y1="740.4" x2="1894.4" y2="740.4" stroke="#BA55D3" stroke-width="3.5"/>
<text x="1900.1" y="745.9" font-size="15.3" textLength="50.0" lengthAdjust="spacingAndGlyphs">State 6</text>
<line x1="1176.7" y1="1052.0" x2="1176.8" y2="1076.0" stroke="#000" stroke-width="1.6"/><polygon points="1170.6,1074.0 1183.0,1074.0 1176.9,1086.5" fill="#000"/>
<line x1="1762.2" y1="1051.8" x2="1762.5" y2="1076.0" stroke="#000" stroke-width="1.6"/><polygon points="1756.3,1074.1 1768.7,1073.9 1762.7,1086.5" fill="#000"/>
<text x="1177.0" y="1123.9" font-size="30" font-weight="bold" text-anchor="middle" textLength="173.0" lengthAdjust="spacingAndGlyphs">Spatial map</text>
<text x="1176.8" y="1152.4" font-size="21.5" text-anchor="middle" textLength="299.4" lengthAdjust="spacingAndGlyphs">Group average PSD per parcel</text>
<text x="1176.3" y="1179.0" font-size="21.5" text-anchor="middle" textLength="155.7" lengthAdjust="spacingAndGlyphs">Example state 1</text>
<text x="1762.7" y="1124.1" font-size="30" font-weight="bold" text-anchor="middle" textLength="256.8" lengthAdjust="spacingAndGlyphs">Connectivity map</text>
<text x="1762.7" y="1152.8" font-size="21.5" text-anchor="middle" textLength="432.1" lengthAdjust="spacingAndGlyphs">Group average COH per pair of parcels (one</text>
<text x="1762.1" y="1179.1" font-size="21.5" text-anchor="middle" textLength="275.9" lengthAdjust="spacingAndGlyphs">connection) Example state 1</text>
<defs><linearGradient id="bg1" gradientUnits="userSpaceOnUse" x1="1099" y1="0" x2="1259" y2="0"><stop offset="0" stop-color="#128cbe"/><stop offset="0.12" stop-color="#0a78c2"/><stop offset="0.45" stop-color="#0a6ac8"/><stop offset="0.6" stop-color="#0a78c2"/><stop offset="0.68" stop-color="#0fa0b4"/><stop offset="1" stop-color="#10aaae"/></linearGradient><filter id="blur3" x="-50%" y="-50%" width="200%" height="200%"><feGaussianBlur stdDeviation="3"/></filter><filter id="blur5" x="-50%" y="-50%" width="200%" height="200%"><feGaussianBlur stdDeviation="5"/></filter><clipPath id="brainclip"><path d="M1099.3,1270.5 C1100.5,1268.1 1104.3,1261.3 1106.5,1256.0 C1108.7,1250.7 1109.8,1243.8 1112.7,1238.5 C1115.6,1233.2 1120.4,1228.0 1124.0,1224.0 C1127.6,1220.0 1131.1,1217.4 1134.4,1214.8 C1137.7,1212.2 1140.1,1210.6 1143.7,1208.6 C1147.3,1206.6 1151.2,1203.9 1156.0,1202.9 C1160.8,1201.9 1167.3,1201.4 1172.6,1202.4 C1177.9,1203.4 1182.8,1207.3 1188.0,1209.0 C1193.2,1210.7 1197.5,1210.5 1203.5,1212.7 C1209.5,1214.9 1218.2,1218.6 1224.2,1222.0 C1230.2,1225.4 1235.1,1229.0 1239.6,1233.3 C1244.1,1237.6 1248.2,1243.0 1251.0,1247.8 C1253.8,1252.6 1254.9,1258.1 1256.2,1262.2 C1257.5,1266.3 1258.9,1269.1 1258.7,1272.6 C1258.5,1276.0 1256.7,1279.6 1255.1,1282.9 C1253.5,1286.2 1251.5,1290.0 1248.9,1292.2 C1246.3,1294.4 1243.7,1295.1 1239.6,1296.3 C1235.5,1297.5 1228.0,1298.8 1224.2,1299.4 C1220.4,1300.0 1218.0,1298.8 1216.5,1300.0 C1215.0,1301.2 1216.7,1304.6 1215.4,1306.6 C1214.1,1308.6 1211.5,1310.2 1208.7,1311.8 C1205.9,1313.3 1201.7,1315.4 1198.4,1315.9 C1195.1,1316.4 1192.0,1316.1 1189.1,1314.9 C1186.2,1313.7 1183.5,1310.9 1180.8,1308.7 C1178.0,1306.5 1175.7,1303.4 1172.6,1301.5 C1169.5,1299.6 1166.3,1298.8 1162.2,1297.3 C1158.1,1295.8 1152.4,1293.8 1147.8,1292.2 C1143.2,1290.7 1138.9,1288.9 1134.4,1288.0 C1129.9,1287.1 1125.0,1287.2 1121.0,1287.0 C1117.0,1286.8 1113.9,1287.7 1110.6,1287.0 C1107.3,1286.3 1103.3,1285.7 1101.4,1282.9 C1099.5,1280.2 1099.7,1272.6 1099.3,1270.5 Z"/></clipPath></defs>
<path d="M1099.3,1270.5 C1100.5,1268.1 1104.3,1261.3 1106.5,1256.0 C1108.7,1250.7 1109.8,1243.8 1112.7,1238.5 C1115.6,1233.2 1120.4,1228.0 1124.0,1224.0 C1127.6,1220.0 1131.1,1217.4 1134.4,1214.8 C1137.7,1212.2 1140.1,1210.6 1143.7,1208.6 C1147.3,1206.6 1151.2,1203.9 1156.0,1202.9 C1160.8,1201.9 1167.3,1201.4 1172.6,1202.4 C1177.9,1203.4 1182.8,1207.3 1188.0,1209.0 C1193.2,1210.7 1197.5,1210.5 1203.5,1212.7 C1209.5,1214.9 1218.2,1218.6 1224.2,1222.0 C1230.2,1225.4 1235.1,1229.0 1239.6,1233.3 C1244.1,1237.6 1248.2,1243.0 1251.0,1247.8 C1253.8,1252.6 1254.9,1258.1 1256.2,1262.2 C1257.5,1266.3 1258.9,1269.1 1258.7,1272.6 C1258.5,1276.0 1256.7,1279.6 1255.1,1282.9 C1253.5,1286.2 1251.5,1290.0 1248.9,1292.2 C1246.3,1294.4 1243.7,1295.1 1239.6,1296.3 C1235.5,1297.5 1228.0,1298.8 1224.2,1299.4 C1220.4,1300.0 1218.0,1298.8 1216.5,1300.0 C1215.0,1301.2 1216.7,1304.6 1215.4,1306.6 C1214.1,1308.6 1211.5,1310.2 1208.7,1311.8 C1205.9,1313.3 1201.7,1315.4 1198.4,1315.9 C1195.1,1316.4 1192.0,1316.1 1189.1,1314.9 C1186.2,1313.7 1183.5,1310.9 1180.8,1308.7 C1178.0,1306.5 1175.7,1303.4 1172.6,1301.5 C1169.5,1299.6 1166.3,1298.8 1162.2,1297.3 C1158.1,1295.8 1152.4,1293.8 1147.8,1292.2 C1143.2,1290.7 1138.9,1288.9 1134.4,1288.0 C1129.9,1287.1 1125.0,1287.2 1121.0,1287.0 C1117.0,1286.8 1113.9,1287.7 1110.6,1287.0 C1107.3,1286.3 1103.3,1285.7 1101.4,1282.9 C1099.5,1280.2 1099.7,1272.6 1099.3,1270.5 Z" fill="url(#bg1)"/>
<g clip-path="url(#brainclip)">
<polygon points="1152,1280 1170,1277 1195,1282 1212,1291 1217,1302 1215,1320 1188,1320 1170,1306 1155,1293" fill="#16d49a" filter="url(#blur3)"/>
<ellipse cx="1244" cy="1278" rx="18" ry="14" fill="#00ff84" filter="url(#blur5)"/>
<ellipse cx="1236" cy="1285" rx="12" ry="8" fill="#10f08a" filter="url(#blur3)"/>
<ellipse cx="1158" cy="1272" rx="4" ry="3" fill="#14c8a0" filter="url(#blur3)"/>
<ellipse cx="1160" cy="1225" rx="30" ry="16" fill="#0660d0" fill-opacity="0.45" filter="url(#blur5)"/>
</g>
<path d="M1764.2,1221.0 C1763.6,1218.1 1761.5,1207.4 1760.4,1203.4 C1759.3,1199.5 1758.9,1198.6 1757.8,1197.2 C1756.7,1195.9 1755.6,1195.3 1753.7,1195.2 C1751.8,1195.0 1748.9,1195.2 1746.5,1196.2 C1744.1,1197.2 1741.5,1198.9 1739.2,1201.4 C1737.0,1203.8 1735.3,1208.2 1733.0,1210.7 C1730.8,1213.1 1727.5,1213.6 1725.8,1215.8 C1724.1,1218.1 1723.4,1221.1 1722.7,1224.1 C1722.0,1227.0 1722.5,1230.1 1721.7,1233.4 C1720.8,1236.6 1718.8,1240.6 1717.6,1243.7 C1716.3,1246.8 1715.2,1248.9 1714.5,1252.0 C1713.7,1255.0 1713.1,1258.8 1712.9,1262.3 C1712.7,1265.7 1713.0,1269.2 1713.4,1272.6 C1713.9,1276.0 1714.5,1279.5 1715.5,1282.9 C1716.5,1286.4 1717.7,1289.8 1719.6,1293.3 C1721.5,1296.7 1724.4,1300.5 1726.8,1303.6 C1729.3,1306.7 1731.3,1309.3 1734.1,1311.8 C1736.8,1314.4 1740.4,1317.2 1743.4,1319.1 C1746.3,1321.0 1748.9,1322.3 1751.6,1323.2 C1754.4,1324.1 1758.2,1324.6 1759.9,1324.2 C1761.6,1323.9 1761.4,1329.0 1761.7,1321.1 C1762.1,1313.2 1761.3,1285.2 1761.7,1276.7 C1762.2,1268.3 1764.0,1274.7 1764.5,1270.5 C1765.0,1266.4 1764.9,1260.2 1764.8,1252.0 C1764.8,1243.7 1764.3,1226.1 1764.2,1221.0 Z" fill="#e4e4e4" stroke="#d8d8d8" stroke-width="0.8"/>
<path d="M1762.0,1252.0 C1762.0,1255.0 1761.7,1266.4 1762.3,1270.5 C1762.8,1274.7 1764.6,1268.3 1765.0,1276.7 C1765.5,1285.2 1764.7,1313.2 1765.0,1321.1 C1765.4,1329.0 1765.6,1323.9 1767.1,1324.2 C1768.7,1324.6 1771.8,1324.2 1774.3,1323.2 C1776.9,1322.2 1779.8,1320.3 1782.6,1318.0 C1785.4,1315.8 1788.1,1312.5 1790.9,1309.8 C1793.6,1307.0 1796.7,1304.3 1799.1,1301.5 C1801.5,1298.8 1803.6,1296.4 1805.3,1293.3 C1807.0,1290.2 1808.4,1286.4 1809.4,1282.9 C1810.5,1279.5 1811.0,1276.0 1811.5,1272.6 C1812.0,1269.2 1812.5,1266.1 1812.5,1262.3 C1812.5,1258.5 1812.2,1253.5 1811.5,1249.9 C1810.8,1246.3 1809.6,1243.7 1808.4,1240.6 C1807.2,1237.5 1805.3,1234.6 1804.3,1231.3 C1803.3,1228.0 1803.1,1224.4 1802.2,1221.0 C1801.4,1217.5 1800.7,1213.7 1799.1,1210.7 C1797.6,1207.6 1795.3,1204.5 1792.9,1202.4 C1790.5,1200.3 1787.4,1199.5 1784.7,1198.3 C1781.9,1197.1 1779.2,1195.5 1776.4,1195.2 C1773.7,1194.8 1769.9,1194.8 1768.1,1196.2 C1766.4,1197.6 1767.1,1199.3 1766.1,1203.4 C1765.0,1207.6 1762.6,1212.9 1762.0,1221.0 C1761.3,1229.1 1762.0,1246.8 1762.0,1252.0 Z" fill="#e4e4e4" stroke="#d8d8d8" stroke-width="0.8"/>
<defs><clipPath id="cbclip">
<path d="M1764.2,1221.0 C1763.6,1218.1 1761.5,1207.4 1760.4,1203.4 C1759.3,1199.5 1758.9,1198.6 1757.8,1197.2 C1756.7,1195.9 1755.6,1195.3 1753.7,1195.2 C1751.8,1195.0 1748.9,1195.2 1746.5,1196.2 C1744.1,1197.2 1741.5,1198.9 1739.2,1201.4 C1737.0,1203.8 1735.3,1208.2 1733.0,1210.7 C1730.8,1213.1 1727.5,1213.6 1725.8,1215.8 C1724.1,1218.1 1723.4,1221.1 1722.7,1224.1 C1722.0,1227.0 1722.5,1230.1 1721.7,1233.4 C1720.8,1236.6 1718.8,1240.6 1717.6,1243.7 C1716.3,1246.8 1715.2,1248.9 1714.5,1252.0 C1713.7,1255.0 1713.1,1258.8 1712.9,1262.3 C1712.7,1265.7 1713.0,1269.2 1713.4,1272.6 C1713.9,1276.0 1714.5,1279.5 1715.5,1282.9 C1716.5,1286.4 1717.7,1289.8 1719.6,1293.3 C1721.5,1296.7 1724.4,1300.5 1726.8,1303.6 C1729.3,1306.7 1731.3,1309.3 1734.1,1311.8 C1736.8,1314.4 1740.4,1317.2 1743.4,1319.1 C1746.3,1321.0 1748.9,1322.3 1751.6,1323.2 C1754.4,1324.1 1758.2,1324.6 1759.9,1324.2 C1761.6,1323.9 1761.4,1329.0 1761.7,1321.1 C1762.1,1313.2 1761.3,1285.2 1761.7,1276.7 C1762.2,1268.3 1764.0,1274.7 1764.5,1270.5 C1765.0,1266.4 1764.9,1260.2 1764.8,1252.0 C1764.8,1243.7 1764.3,1226.1 1764.2,1221.0 Z"/>
<path d="M1762.0,1252.0 C1762.0,1255.0 1761.7,1266.4 1762.3,1270.5 C1762.8,1274.7 1764.6,1268.3 1765.0,1276.7 C1765.5,1285.2 1764.7,1313.2 1765.0,1321.1 C1765.4,1329.0 1765.6,1323.9 1767.1,1324.2 C1768.7,1324.6 1771.8,1324.2 1774.3,1323.2 C1776.9,1322.2 1779.8,1320.3 1782.6,1318.0 C1785.4,1315.8 1788.1,1312.5 1790.9,1309.8 C1793.6,1307.0 1796.7,1304.3 1799.1,1301.5 C1801.5,1298.8 1803.6,1296.4 1805.3,1293.3 C1807.0,1290.2 1808.4,1286.4 1809.4,1282.9 C1810.5,1279.5 1811.0,1276.0 1811.5,1272.6 C1812.0,1269.2 1812.5,1266.1 1812.5,1262.3 C1812.5,1258.5 1812.2,1253.5 1811.5,1249.9 C1810.8,1246.3 1809.6,1243.7 1808.4,1240.6 C1807.2,1237.5 1805.3,1234.6 1804.3,1231.3 C1803.3,1228.0 1803.1,1224.4 1802.2,1221.0 C1801.4,1217.5 1800.7,1213.7 1799.1,1210.7 C1797.6,1207.6 1795.3,1204.5 1792.9,1202.4 C1790.5,1200.3 1787.4,1199.5 1784.7,1198.3 C1781.9,1197.1 1779.2,1195.5 1776.4,1195.2 C1773.7,1194.8 1769.9,1194.8 1768.1,1196.2 C1766.4,1197.6 1767.1,1199.3 1766.1,1203.4 C1765.0,1207.6 1762.6,1212.9 1762.0,1221.0 C1761.3,1229.1 1762.0,1246.8 1762.0,1252.0 Z"/>
</clipPath></defs>
<g clip-path="url(#cbclip)" fill="#c9c9c9" filter="url(#blur3)" opacity="0.8">
<ellipse cx="1726.8" cy="1254.0" rx="11.4" ry="16.5"/>
<ellipse cx="1731.0" cy="1233.4" rx="6.2" ry="12.4"/>
<ellipse cx="1796.0" cy="1257.1" rx="12.4" ry="17.6"/>
<ellipse cx="1790.9" cy="1233.4" rx="6.2" ry="12.4"/>
<ellipse cx="1734.1" cy="1288.1" rx="12.4" ry="11.4"/>
<ellipse cx="1790.9" cy="1288.1" rx="12.4" ry="11.4"/>
<ellipse cx="1746.5" cy="1308.7" rx="8.3" ry="6.2"/>
<ellipse cx="1778.5" cy="1308.7" rx="8.3" ry="6.2"/>
<ellipse cx="1743.4" cy="1260.2" rx="5.2" ry="9.3"/>
<ellipse cx="1782.6" cy="1262.3" rx="5.2" ry="9.3"/>
</g>
<line x1="1738.0" y1="1204.8" x2="1787.6" y2="1205.0" stroke="#cde860" stroke-width="1.69"/>
<line x1="1746.7" y1="1202.9" x2="1778.5" y2="1202.7" stroke="#8fd058" stroke-width="1.43"/>
<line x1="1738.0" y1="1204.8" x2="1762.7" y2="1210.7" stroke="#9cd858" stroke-width="1.56"/>
<line x1="1762.7" y1="1210.7" x2="1787.6" y2="1205.0" stroke="#c8e85a" stroke-width="1.69"/>
<line x1="1762.7" y1="1210.7" x2="1778.5" y2="1202.7" stroke="#80c858" stroke-width="1.30"/>
<line x1="1729.9" y1="1222.2" x2="1787.6" y2="1205.0" stroke="#74c257" stroke-width="1.56"/>
<line x1="1738.0" y1="1204.8" x2="1729.9" y2="1222.2" stroke="#74c257" stroke-width="1.56"/>
<line x1="1729.9" y1="1222.2" x2="1724.0" y2="1249.1" stroke="#74c257" stroke-width="1.56"/>
<line x1="1724.0" y1="1249.1" x2="1801.7" y2="1248.6" stroke="#74c257" stroke-width="1.30"/>
<line x1="1724.0" y1="1249.1" x2="1787.6" y2="1205.0" stroke="#74c257" stroke-width="1.30"/>
<line x1="1795.2" y1="1222.0" x2="1801.7" y2="1248.6" stroke="#74c257" stroke-width="1.56"/>
<line x1="1787.6" y1="1205.0" x2="1795.2" y2="1222.0" stroke="#96d45a" stroke-width="1.56"/>
<line x1="1787.6" y1="1205.0" x2="1763.3" y2="1281.7" stroke="#74c257" stroke-width="1.30"/>
<line x1="1738.0" y1="1204.8" x2="1795.2" y2="1222.0" stroke="#74c257" stroke-width="1.43"/>
<line x1="1729.9" y1="1222.2" x2="1762.7" y2="1210.7" stroke="#74c257" stroke-width="1.30"/>
<line x1="1721.2" y1="1261.6" x2="1718.4" y2="1281.2" stroke="#74c257" stroke-width="1.30"/>
<line x1="1733.9" y1="1303.6" x2="1747.3" y2="1317.2" stroke="#74c257" stroke-width="1.30"/>
<line x1="1754.7" y1="1311.8" x2="1770.2" y2="1311.3" stroke="#96d45a" stroke-width="1.30"/>
<line x1="1798.6" y1="1296.4" x2="1791.1" y2="1303.8" stroke="#74c257" stroke-width="1.30"/>
<line x1="1791.1" y1="1303.8" x2="1778.5" y2="1316.5" stroke="#74c257" stroke-width="1.30"/>
<line x1="1738.0" y1="1204.8" x2="1724.0" y2="1249.1" stroke="#74c257" stroke-width="1.30"/>
<circle cx="1738.0" cy="1204.8" r="1.1" fill="#111"/>
<circle cx="1746.7" cy="1202.9" r="1.1" fill="#111"/>
<circle cx="1778.5" cy="1202.7" r="1.1" fill="#111"/>
<circle cx="1787.6" cy="1205.0" r="1.1" fill="#111"/>
<circle cx="1762.7" cy="1210.7" r="1.1" fill="#111"/>
<circle cx="1729.9" cy="1222.2" r="1.1" fill="#111"/>
<circle cx="1795.2" cy="1222.0" r="1.1" fill="#111"/>
<circle cx="1724.0" cy="1249.1" r="1.1" fill="#111"/>
<circle cx="1801.7" cy="1248.6" r="1.1" fill="#111"/>
<circle cx="1721.2" cy="1261.6" r="1.1" fill="#111"/>
<circle cx="1718.4" cy="1281.2" r="1.1" fill="#111"/>
<circle cx="1763.3" cy="1281.7" r="1.1" fill="#111"/>
<circle cx="1733.9" cy="1303.6" r="1.1" fill="#111"/>
<circle cx="1747.3" cy="1317.2" r="1.1" fill="#111"/>
<circle cx="1754.7" cy="1311.8" r="1.1" fill="#111"/>
<circle cx="1770.2" cy="1311.3" r="1.1" fill="#111"/>
<circle cx="1798.6" cy="1296.4" r="1.1" fill="#111"/>
<circle cx="1791.1" cy="1303.8" r="1.1" fill="#111"/>
<circle cx="1778.5" cy="1316.5" r="1.1" fill="#111"/>
</svg>
</body></html>
